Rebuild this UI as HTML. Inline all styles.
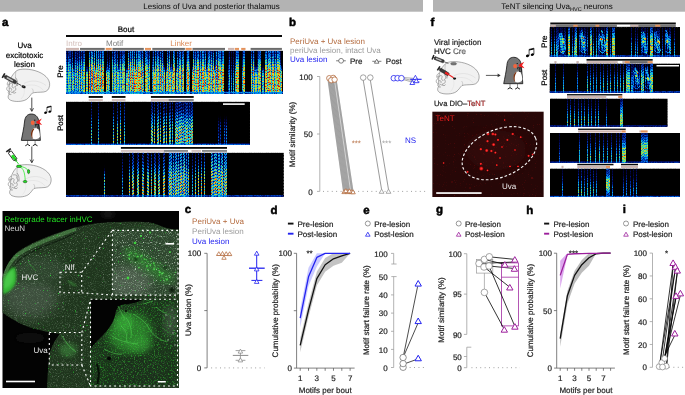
<!DOCTYPE html>
<html><head><meta charset="utf-8"><style>
html,body{margin:0;padding:0;background:#fff;}
body{width:685px;height:395px;overflow:hidden;}
svg{display:block;font-family:"Liberation Sans", sans-serif;font-size:8px;will-change:transform;text-rendering:geometricPrecision;}
</style></head><body>
<svg width="685" height="395" viewBox="0 0 685 395">
<defs><pattern id="harm" patternUnits="userSpaceOnUse" width="17" height="2.6"><g fill="#000" fill-opacity="0.6"><rect x="0" y="1.05" width="1" height="1.0"/><rect x="0" y="-1.55" width="1" height="1.0"/><rect x="1" y="0.52" width="1" height="1.0"/><rect x="1" y="-2.08" width="1" height="1.0"/><rect x="2" y="0.46" width="1" height="1.0"/><rect x="2" y="-2.14" width="1" height="1.0"/><rect x="3" y="0.65" width="1" height="1.0"/><rect x="3" y="-1.95" width="1" height="1.0"/><rect x="4" y="1.98" width="1" height="1.0"/><rect x="4" y="-0.62" width="1" height="1.0"/><rect x="5" y="0.65" width="1" height="1.0"/><rect x="5" y="-1.95" width="1" height="1.0"/><rect x="6" y="1.00" width="1" height="1.0"/><rect x="6" y="-1.60" width="1" height="1.0"/><rect x="7" y="1.78" width="1" height="1.0"/><rect x="7" y="-0.82" width="1" height="1.0"/><rect x="8" y="1.40" width="1" height="1.0"/><rect x="8" y="-1.20" width="1" height="1.0"/><rect x="9" y="2.44" width="1" height="1.0"/><rect x="9" y="-0.16" width="1" height="1.0"/><rect x="10" y="1.27" width="1" height="1.0"/><rect x="10" y="-1.33" width="1" height="1.0"/><rect x="11" y="1.10" width="1" height="1.0"/><rect x="11" y="-1.50" width="1" height="1.0"/><rect x="12" y="1.59" width="1" height="1.0"/><rect x="12" y="-1.01" width="1" height="1.0"/><rect x="13" y="0.56" width="1" height="1.0"/><rect x="13" y="-2.04" width="1" height="1.0"/><rect x="14" y="2.35" width="1" height="1.0"/><rect x="14" y="-0.25" width="1" height="1.0"/><rect x="15" y="0.97" width="1" height="1.0"/><rect x="15" y="-1.63" width="1" height="1.0"/><rect x="16" y="1.01" width="1" height="1.0"/><rect x="16" y="-1.59" width="1" height="1.0"/></g></pattern><pattern id="harm2" patternUnits="userSpaceOnUse" width="17" height="3.1"><g fill="#000" fill-opacity="0.72"><rect x="0" y="2.12" width="1" height="1.3"/><rect x="0" y="-0.98" width="1" height="1.3"/><rect x="1" y="0.47" width="1" height="1.3"/><rect x="1" y="-2.63" width="1" height="1.3"/><rect x="2" y="2.05" width="1" height="1.3"/><rect x="2" y="-1.05" width="1" height="1.3"/><rect x="3" y="2.63" width="1" height="1.3"/><rect x="3" y="-0.47" width="1" height="1.3"/><rect x="4" y="1.05" width="1" height="1.3"/><rect x="4" y="-2.05" width="1" height="1.3"/><rect x="5" y="2.94" width="1" height="1.3"/><rect x="5" y="-0.16" width="1" height="1.3"/><rect x="6" y="1.64" width="1" height="1.3"/><rect x="6" y="-1.46" width="1" height="1.3"/><rect x="7" y="2.40" width="1" height="1.3"/><rect x="7" y="-0.70" width="1" height="1.3"/><rect x="8" y="1.45" width="1" height="1.3"/><rect x="8" y="-1.65" width="1" height="1.3"/><rect x="9" y="1.25" width="1" height="1.3"/><rect x="9" y="-1.85" width="1" height="1.3"/><rect x="10" y="0.84" width="1" height="1.3"/><rect x="10" y="-2.26" width="1" height="1.3"/><rect x="11" y="0.02" width="1" height="1.3"/><rect x="11" y="-3.08" width="1" height="1.3"/><rect x="12" y="0.63" width="1" height="1.3"/><rect x="12" y="-2.47" width="1" height="1.3"/><rect x="13" y="3.07" width="1" height="1.3"/><rect x="13" y="-0.03" width="1" height="1.3"/><rect x="14" y="1.66" width="1" height="1.3"/><rect x="14" y="-1.44" width="1" height="1.3"/><rect x="15" y="1.43" width="1" height="1.3"/><rect x="15" y="-1.67" width="1" height="1.3"/><rect x="16" y="2.79" width="1" height="1.3"/><rect x="16" y="-0.31" width="1" height="1.3"/></g></pattern><linearGradient id="pf" x1="0" y1="0" x2="0" y2="1"><stop offset="0.000" stop-color="#616161"/><stop offset="0.083" stop-color="#636363"/><stop offset="0.167" stop-color="#777777"/><stop offset="0.250" stop-color="#999999"/><stop offset="0.333" stop-color="#c0c0c0"/><stop offset="0.417" stop-color="#e3e3e3"/><stop offset="0.500" stop-color="#fbfbfb"/><stop offset="0.583" stop-color="#ffffff"/><stop offset="0.667" stop-color="#ffffff"/><stop offset="0.750" stop-color="#ffffff"/><stop offset="0.833" stop-color="#ffffff"/><stop offset="0.917" stop-color="#ffffff"/><stop offset="1.000" stop-color="#e6e6e6"/></linearGradient><linearGradient id="pl" x1="0" y1="0" x2="0" y2="1"><stop offset="0.000" stop-color="#000000"/><stop offset="0.083" stop-color="#000000"/><stop offset="0.167" stop-color="#000000"/><stop offset="0.250" stop-color="#000000"/><stop offset="0.333" stop-color="#0c0c0c"/><stop offset="0.417" stop-color="#4f4f4f"/><stop offset="0.500" stop-color="#b4b4b4"/><stop offset="0.583" stop-color="#fbfbfb"/><stop offset="0.667" stop-color="#ffffff"/><stop offset="0.750" stop-color="#ffffff"/><stop offset="0.833" stop-color="#ffffff"/><stop offset="0.917" stop-color="#ffffff"/><stop offset="1.000" stop-color="#e6e6e6"/></linearGradient><linearGradient id="pb" x1="0" y1="0" x2="0" y2="1"><stop offset="0.000" stop-color="#505050"/><stop offset="0.083" stop-color="#585858"/><stop offset="0.167" stop-color="#686868"/><stop offset="0.250" stop-color="#858585"/><stop offset="0.333" stop-color="#afafaf"/><stop offset="0.417" stop-color="#dbdbdb"/><stop offset="0.500" stop-color="#f9f9f9"/><stop offset="0.583" stop-color="#fcfcfc"/><stop offset="0.667" stop-color="#e3e3e3"/><stop offset="0.750" stop-color="#b8b8b8"/><stop offset="0.833" stop-color="#8d8d8d"/><stop offset="0.917" stop-color="#6d6d6d"/><stop offset="1.000" stop-color="#5a5a5a"/></linearGradient><linearGradient id="pt" x1="0" y1="0" x2="0" y2="1"><stop offset="0.000" stop-color="#525252"/><stop offset="0.083" stop-color="#525252"/><stop offset="0.167" stop-color="#555555"/><stop offset="0.250" stop-color="#646464"/><stop offset="0.333" stop-color="#7a7a7a"/><stop offset="0.417" stop-color="#949494"/><stop offset="0.500" stop-color="#b1b1b1"/><stop offset="0.583" stop-color="#cdcdcd"/><stop offset="0.667" stop-color="#e5e5e5"/><stop offset="0.750" stop-color="#f7f7f7"/><stop offset="0.833" stop-color="#ffffff"/><stop offset="0.917" stop-color="#ffffff"/><stop offset="1.000" stop-color="#ffffff"/></linearGradient><linearGradient id="pp" x1="0" y1="0" x2="0" y2="1"><stop offset="0.000" stop-color="#4c4c4c"/><stop offset="0.083" stop-color="#4c4c4c"/><stop offset="0.167" stop-color="#515151"/><stop offset="0.250" stop-color="#626262"/><stop offset="0.333" stop-color="#7b7b7b"/><stop offset="0.417" stop-color="#999999"/><stop offset="0.500" stop-color="#b9b9b9"/><stop offset="0.583" stop-color="#d6d6d6"/><stop offset="0.667" stop-color="#eeeeee"/><stop offset="0.750" stop-color="#fcfcfc"/><stop offset="0.833" stop-color="#ffffff"/><stop offset="0.917" stop-color="#ffffff"/><stop offset="1.000" stop-color="#ebebeb"/></linearGradient><linearGradient id="pg" x1="0" y1="0" x2="0" y2="1"><stop offset="0.000" stop-color="#8c8c8c"/><stop offset="0.083" stop-color="#8c8c8c"/><stop offset="0.167" stop-color="#909090"/><stop offset="0.250" stop-color="#9e9e9e"/><stop offset="0.333" stop-color="#b3b3b3"/><stop offset="0.417" stop-color="#cacaca"/><stop offset="0.500" stop-color="#e1e1e1"/><stop offset="0.583" stop-color="#f4f4f4"/><stop offset="0.667" stop-color="#fefefe"/><stop offset="0.750" stop-color="#ffffff"/><stop offset="0.833" stop-color="#ffffff"/><stop offset="0.917" stop-color="#ffffff"/><stop offset="1.000" stop-color="#ebebeb"/></linearGradient><linearGradient id="ps" x1="0" y1="0" x2="0" y2="1"><stop offset="0.000" stop-color="#383838"/><stop offset="0.083" stop-color="#383838"/><stop offset="0.167" stop-color="#3f3f3f"/><stop offset="0.250" stop-color="#565656"/><stop offset="0.333" stop-color="#777777"/><stop offset="0.417" stop-color="#9a9a9a"/><stop offset="0.500" stop-color="#b8b8b8"/><stop offset="0.583" stop-color="#cacaca"/><stop offset="0.667" stop-color="#cccccc"/><stop offset="0.750" stop-color="#cccccc"/><stop offset="0.833" stop-color="#cccccc"/><stop offset="0.917" stop-color="#cccccc"/><stop offset="1.000" stop-color="#b8b8b8"/></linearGradient><filter id="spf1" x="0" y="0" width="1" height="1" color-interpolation-filters="sRGB"><feTurbulence type="fractalNoise" baseFrequency="0.75 0.42" numOctaves="2" seed="3" result="n"/><feColorMatrix in="n" type="matrix" values="1.0 0 0 0 0.35 1.0 0 0 0 0.35 1.0 0 0 0 0.35 0 0 0 0 1" result="m"/><feComposite in="SourceGraphic" in2="m" operator="arithmetic" k1="1.45" result="p"/><feComponentTransfer in="p"><feFuncR type="table" tableValues="0.000 0.000 0.000 0.000 0.000 0.000 0.000 0.008 0.024 0.059 0.145 0.235 0.431 0.627 0.765 0.886 0.965 0.973 0.980 0.894 0.804"/><feFuncG type="table" tableValues="0.000 0.000 0.000 0.047 0.098 0.192 0.318 0.451 0.592 0.718 0.780 0.843 0.867 0.890 0.871 0.839 0.765 0.620 0.471 0.275 0.078"/><feFuncB type="table" tableValues="0.000 0.098 0.196 0.345 0.490 0.647 0.804 0.906 0.914 0.894 0.761 0.627 0.451 0.271 0.188 0.133 0.086 0.063 0.039 0.039 0.039"/><feFuncA type="identity"/></feComponentTransfer></filter><filter id="spf2" x="0" y="0" width="1" height="1" color-interpolation-filters="sRGB"><feTurbulence type="fractalNoise" baseFrequency="0.75 0.42" numOctaves="2" seed="5" result="n"/><feColorMatrix in="n" type="matrix" values="1.0 0 0 0 0.35 1.0 0 0 0 0.35 1.0 0 0 0 0.35 0 0 0 0 1" result="m"/><feComposite in="SourceGraphic" in2="m" operator="arithmetic" k1="1.38" result="p"/><feComponentTransfer in="p"><feFuncR type="table" tableValues="0.000 0.000 0.000 0.000 0.000 0.000 0.000 0.008 0.024 0.059 0.145 0.235 0.431 0.627 0.765 0.886 0.965 0.973 0.980 0.894 0.804"/><feFuncG type="table" tableValues="0.000 0.000 0.000 0.047 0.098 0.192 0.318 0.451 0.592 0.718 0.780 0.843 0.867 0.890 0.871 0.839 0.765 0.620 0.471 0.275 0.078"/><feFuncB type="table" tableValues="0.000 0.098 0.196 0.345 0.490 0.647 0.804 0.906 0.914 0.894 0.761 0.627 0.451 0.271 0.188 0.133 0.086 0.063 0.039 0.039 0.039"/><feFuncA type="identity"/></feComponentTransfer></filter><filter id="spf3" x="0" y="0" width="1" height="1" color-interpolation-filters="sRGB"><feTurbulence type="fractalNoise" baseFrequency="0.75 0.42" numOctaves="2" seed="7" result="n"/><feColorMatrix in="n" type="matrix" values="1.0 0 0 0 0.35 1.0 0 0 0 0.35 1.0 0 0 0 0.35 0 0 0 0 1" result="m"/><feComposite in="SourceGraphic" in2="m" operator="arithmetic" k1="1.38" result="p"/><feComponentTransfer in="p"><feFuncR type="table" tableValues="0.000 0.000 0.000 0.000 0.000 0.000 0.000 0.008 0.024 0.059 0.145 0.235 0.431 0.627 0.765 0.886 0.965 0.973 0.980 0.894 0.804"/><feFuncG type="table" tableValues="0.000 0.000 0.000 0.047 0.098 0.192 0.318 0.451 0.592 0.718 0.780 0.843 0.867 0.890 0.871 0.839 0.765 0.620 0.471 0.275 0.078"/><feFuncB type="table" tableValues="0.000 0.098 0.196 0.345 0.490 0.647 0.804 0.906 0.914 0.894 0.761 0.627 0.451 0.271 0.188 0.133 0.086 0.063 0.039 0.039 0.039"/><feFuncA type="identity"/></feComponentTransfer></filter><filter id="spf4" x="0" y="0" width="1" height="1" color-interpolation-filters="sRGB"><feTurbulence type="fractalNoise" baseFrequency="0.75 0.42" numOctaves="2" seed="11" result="n"/><feColorMatrix in="n" type="matrix" values="1.0 0 0 0 0.35 1.0 0 0 0 0.35 1.0 0 0 0 0.35 0 0 0 0 1" result="m"/><feComposite in="SourceGraphic" in2="m" operator="arithmetic" k1="1.42" result="p"/><feComponentTransfer in="p"><feFuncR type="table" tableValues="0.000 0.000 0.000 0.000 0.000 0.000 0.000 0.008 0.024 0.059 0.145 0.235 0.431 0.627 0.765 0.886 0.965 0.973 0.980 0.894 0.804"/><feFuncG type="table" tableValues="0.000 0.000 0.000 0.047 0.098 0.192 0.318 0.451 0.592 0.718 0.780 0.843 0.867 0.890 0.871 0.839 0.765 0.620 0.471 0.275 0.078"/><feFuncB type="table" tableValues="0.000 0.098 0.196 0.345 0.490 0.647 0.804 0.906 0.914 0.894 0.761 0.627 0.451 0.271 0.188 0.133 0.086 0.063 0.039 0.039 0.039"/><feFuncA type="identity"/></feComponentTransfer></filter><filter id="spf5" x="0" y="0" width="1" height="1" color-interpolation-filters="sRGB"><feTurbulence type="fractalNoise" baseFrequency="0.75 0.42" numOctaves="2" seed="13" result="n"/><feColorMatrix in="n" type="matrix" values="1.0 0 0 0 0.35 1.0 0 0 0 0.35 1.0 0 0 0 0.35 0 0 0 0 1" result="m"/><feComposite in="SourceGraphic" in2="m" operator="arithmetic" k1="1.25" result="p"/><feComponentTransfer in="p"><feFuncR type="table" tableValues="0.000 0.000 0.000 0.000 0.000 0.000 0.000 0.008 0.024 0.059 0.145 0.235 0.431 0.627 0.765 0.886 0.965 0.973 0.980 0.894 0.804"/><feFuncG type="table" tableValues="0.000 0.000 0.000 0.047 0.098 0.192 0.318 0.451 0.592 0.718 0.780 0.843 0.867 0.890 0.871 0.839 0.765 0.620 0.471 0.275 0.078"/><feFuncB type="table" tableValues="0.000 0.098 0.196 0.345 0.490 0.647 0.804 0.906 0.914 0.894 0.761 0.627 0.451 0.271 0.188 0.133 0.086 0.063 0.039 0.039 0.039"/><feFuncA type="identity"/></feComponentTransfer></filter><filter id="spf6" x="0" y="0" width="1" height="1" color-interpolation-filters="sRGB"><feTurbulence type="fractalNoise" baseFrequency="0.75 0.42" numOctaves="2" seed="17" result="n"/><feColorMatrix in="n" type="matrix" values="1.0 0 0 0 0.35 1.0 0 0 0 0.35 1.0 0 0 0 0.35 0 0 0 0 1" result="m"/><feComposite in="SourceGraphic" in2="m" operator="arithmetic" k1="1.25" result="p"/><feComponentTransfer in="p"><feFuncR type="table" tableValues="0.000 0.000 0.000 0.000 0.000 0.000 0.000 0.008 0.024 0.059 0.145 0.235 0.431 0.627 0.765 0.886 0.965 0.973 0.980 0.894 0.804"/><feFuncG type="table" tableValues="0.000 0.000 0.000 0.047 0.098 0.192 0.318 0.451 0.592 0.718 0.780 0.843 0.867 0.890 0.871 0.839 0.765 0.620 0.471 0.275 0.078"/><feFuncB type="table" tableValues="0.000 0.098 0.196 0.345 0.490 0.647 0.804 0.906 0.914 0.894 0.761 0.627 0.451 0.271 0.188 0.133 0.086 0.063 0.039 0.039 0.039"/><feFuncA type="identity"/></feComponentTransfer></filter><filter id="spf7" x="0" y="0" width="1" height="1" color-interpolation-filters="sRGB"><feTurbulence type="fractalNoise" baseFrequency="0.75 0.42" numOctaves="2" seed="19" result="n"/><feColorMatrix in="n" type="matrix" values="1.0 0 0 0 0.35 1.0 0 0 0 0.35 1.0 0 0 0 0.35 0 0 0 0 1" result="m"/><feComposite in="SourceGraphic" in2="m" operator="arithmetic" k1="1.25" result="p"/><feComponentTransfer in="p"><feFuncR type="table" tableValues="0.000 0.000 0.000 0.000 0.000 0.000 0.000 0.008 0.024 0.059 0.145 0.235 0.431 0.627 0.765 0.886 0.965 0.973 0.980 0.894 0.804"/><feFuncG type="table" tableValues="0.000 0.000 0.000 0.047 0.098 0.192 0.318 0.451 0.592 0.718 0.780 0.843 0.867 0.890 0.871 0.839 0.765 0.620 0.471 0.275 0.078"/><feFuncB type="table" tableValues="0.000 0.098 0.196 0.345 0.490 0.647 0.804 0.906 0.914 0.894 0.761 0.627 0.451 0.271 0.188 0.133 0.086 0.063 0.039 0.039 0.039"/><feFuncA type="identity"/></feComponentTransfer></filter><filter id="spf8" x="0" y="0" width="1" height="1" color-interpolation-filters="sRGB"><feTurbulence type="fractalNoise" baseFrequency="0.75 0.42" numOctaves="2" seed="23" result="n"/><feColorMatrix in="n" type="matrix" values="1.0 0 0 0 0.35 1.0 0 0 0 0.35 1.0 0 0 0 0.35 0 0 0 0 1" result="m"/><feComposite in="SourceGraphic" in2="m" operator="arithmetic" k1="1.25" result="p"/><feComponentTransfer in="p"><feFuncR type="table" tableValues="0.000 0.000 0.000 0.000 0.000 0.000 0.000 0.008 0.024 0.059 0.145 0.235 0.431 0.627 0.765 0.886 0.965 0.973 0.980 0.894 0.804"/><feFuncG type="table" tableValues="0.000 0.000 0.000 0.047 0.098 0.192 0.318 0.451 0.592 0.718 0.780 0.843 0.867 0.890 0.871 0.839 0.765 0.620 0.471 0.275 0.078"/><feFuncB type="table" tableValues="0.000 0.098 0.196 0.345 0.490 0.647 0.804 0.906 0.914 0.894 0.761 0.627 0.451 0.271 0.188 0.133 0.086 0.063 0.039 0.039 0.039"/><feFuncA type="identity"/></feComponentTransfer></filter><clipPath id="mclip"><rect x="2.3" y="211" width="176.7" height="177"/></clipPath><clipPath id="tclip"><path d="M2.3,278 C5,268 10,258 18,251.5 C28,244.5 42,238.5 56,233.5 C66,230 74,227.5 86,225 C98,222.8 115,221.6 140,221.8 C150,222 156,223.5 162,226.5 C168,229 174,229.5 179,229.5 L179,388 L47,388 C47.5,375 48.5,362 50,352 C52,345 56,339 59.5,334 C52,333 42,331 30,327.5 C20,324 10,318 2.3,312.5 Z"/></clipPath><filter id="wspk" x="0" y="0" width="1" height="1" color-interpolation-filters="sRGB"><feTurbulence type="fractalNoise" baseFrequency="0.85" numOctaves="1" seed="8"/><feColorMatrix type="matrix" values="0 0 0 0 0.85 0 0 0 0 0.9 0 0 0 0 0.85 7 0 0 0 -4.45"/></filter><filter id="gspk" x="0" y="0" width="1" height="1" color-interpolation-filters="sRGB"><feTurbulence type="fractalNoise" baseFrequency="0.6" numOctaves="1" seed="21"/><feColorMatrix type="matrix" values="0 0 0 0 0.15 0 0 0 0 0.95 0 0 0 0 0.2 0 10 0 0 -7.1"/></filter><filter id="grain" x="0" y="0" width="1" height="1" color-interpolation-filters="sRGB"><feTurbulence type="fractalNoise" baseFrequency="1.1" numOctaves="1" seed="5"/><feColorMatrix type="matrix" values="0 0 0 0 0.62 0 0 0 0 0.8 0 0 0 0 0.62 4 0 0 0 -2.0"/></filter><filter id="blur1"><feGaussianBlur stdDeviation="1.2"/></filter><filter id="blur2"><feGaussianBlur stdDeviation="2.5"/></filter><filter id="blur4"><feGaussianBlur stdDeviation="4"/></filter><filter id="blur6" x="-50%" y="-50%" width="200%" height="200%"><feGaussianBlur stdDeviation="6"/></filter><clipPath id="i1clip"><rect x="112.4" y="230.4" width="65.6" height="64.7"/></clipPath><clipPath id="i2clip"><rect x="90.5" y="299.3" width="87" height="86.7"/></clipPath><filter id="gspk2" x="0" y="0" width="1" height="1" color-interpolation-filters="sRGB"><feTurbulence type="fractalNoise" baseFrequency="0.7" numOctaves="2" seed="12"/><feColorMatrix type="matrix" values="0 0 0 0 0.2 0 0 0 0 0.85 0 0 0 0 0.2 0 6 0 0 -3.3"/></filter><filter id="rgrain" x="0" y="0" width="1" height="1" color-interpolation-filters="sRGB"><feTurbulence type="fractalNoise" baseFrequency="0.9" numOctaves="1" seed="31"/><feColorMatrix type="matrix" values="0 0 0 0 0.9 0 0 0 0 0.1 0 0 0 0 0.1 6 0 0 0 -3.9"/></filter><clipPath id="tclip2"><rect x="432.2" y="111.4" width="111.6" height="85.6"/></clipPath><radialGradient id="rdot"><stop offset="0" stop-color="#ff4040"/><stop offset="0.45" stop-color="#e01818"/><stop offset="1" stop-color="#600" stop-opacity="0"/></radialGradient></defs>
<rect x="0.00" y="0.00" width="423.00" height="11.70" fill="#b3b3b3"/>
<rect x="433.00" y="0.00" width="252.00" height="11.70" fill="#b3b3b3"/>
<text x="211.5" y="9.3" fill="#0a0a0a" text-anchor="middle">Lesions of Uva and posterior thalamus</text>
<text x="557" y="9.3" fill="#0a0a0a" text-anchor="middle">TeNT silencing Uva<tspan font-size="5.5" dy="1.8">HVC</tspan><tspan dy="-1.8"> neurons</tspan></text>
<text x="2" y="25.8" font-size="11.5" font-weight="bold" stroke="#000" stroke-width="0.5">a</text>
<text x="289" y="25.5" font-size="11.5" font-weight="bold" stroke="#000" stroke-width="0.5">b</text>
<text x="184.8" y="213.3" font-size="11.5" font-weight="bold" stroke="#000" stroke-width="0.5">c</text>
<text x="270.5" y="213.8" font-size="11.5" font-weight="bold" stroke="#000" stroke-width="0.5">d</text>
<text x="363.3" y="213.8" font-size="11.5" font-weight="bold" stroke="#000" stroke-width="0.5">e</text>
<text x="430.4" y="25.8" font-size="11.5" font-weight="bold" stroke="#000" stroke-width="0.5">f</text>
<text x="436" y="213.3" font-size="11.5" font-weight="bold" stroke="#000" stroke-width="0.5">g</text>
<text x="526.2" y="213.8" font-size="11.5" font-weight="bold" stroke="#000" stroke-width="0.5">h</text>
<text x="622.8" y="213.3" font-size="11.5" font-weight="bold" stroke="#000" stroke-width="0.5">i</text>
<rect x="66.00" y="35.00" width="216.00" height="2.00" fill="#0a0a0a"/>
<text x="126" y="32.3" text-anchor="middle" stroke="#000" stroke-width="0.2">Bout</text>
<text x="66" y="46" fill="#d2bdb9">Intro</text>
<text x="106" y="46" fill="#808080">Motif</text>
<text x="170.2" y="46" fill="#dc8a58">Linker</text>
<rect x="66.00" y="47.90" width="13.00" height="2.00" fill="#cbb3ae"/>
<rect x="80.00" y="47.90" width="24.70" height="2.00" fill="#6b6b6b"/>
<rect x="105.70" y="47.90" width="6.00" height="2.00" fill="#e3915a"/>
<rect x="112.50" y="47.90" width="31.30" height="2.00" fill="#6b6b6b"/>
<rect x="145.00" y="47.90" width="6.00" height="2.00" fill="#e3915a"/>
<rect x="152.30" y="47.90" width="32.60" height="2.00" fill="#6b6b6b"/>
<rect x="185.50" y="47.90" width="6.20" height="2.00" fill="#e3915a"/>
<rect x="192.50" y="47.90" width="32.50" height="2.00" fill="#6b6b6b"/>
<rect x="228.00" y="47.90" width="6.20" height="2.00" fill="#cbb3ae"/>
<rect x="234.80" y="47.90" width="4.20" height="2.00" fill="#e3915a"/>
<rect x="241.20" y="47.90" width="4.30" height="2.00" fill="#e3915a"/>
<rect x="250.60" y="47.90" width="31.30" height="2.00" fill="#6b6b6b"/>
<g filter="url(#spf1)">
<rect x="66.00" y="50.90" width="217.00" height="42.70" fill="#000"/>
<rect x="66" y="50.9" width="1" height="42.7" fill="url(#pf)" fill-opacity="0.53"/>
<rect x="67" y="50.9" width="1" height="42.7" fill="url(#ps)" fill-opacity="0.40"/>
<rect x="68" y="50.9" width="1" height="42.7" fill="url(#pf)" fill-opacity="0.60"/>
<rect x="69" y="50.9" width="1" height="42.7" fill="url(#pf)" fill-opacity="0.53"/>
<rect x="70" y="50.9" width="1" height="42.7" fill="url(#pf)" fill-opacity="0.56"/>
<rect x="71" y="50.9" width="1" height="42.7" fill="url(#ps)" fill-opacity="0.35"/>
<rect x="72" y="50.9" width="1" height="42.7" fill="url(#pf)" fill-opacity="0.57"/>
<rect x="73" y="50.9" width="1" height="42.7" fill="url(#pl)" fill-opacity="0.55"/>
<rect x="74" y="50.9" width="1" height="42.7" fill="url(#ps)" fill-opacity="0.39"/>
<rect x="75" y="50.9" width="1" height="42.7" fill="url(#pf)" fill-opacity="0.56"/>
<rect x="76" y="50.9" width="1" height="42.7" fill="url(#ps)" fill-opacity="0.48"/>
<rect x="77" y="50.9" width="1" height="42.7" fill="url(#pf)" fill-opacity="0.56"/>
<rect x="78" y="50.9" width="1" height="42.7" fill="url(#ps)" fill-opacity="0.38"/>
<rect x="79" y="50.9" width="1" height="42.7" fill="url(#pf)" fill-opacity="0.63"/>
<rect x="80" y="50.9" width="1" height="42.7" fill="url(#ps)" fill-opacity="0.41"/>
<rect x="81" y="50.9" width="1" height="42.7" fill="url(#pf)" fill-opacity="0.65"/>
<rect x="82" y="50.9" width="1" height="42.7" fill="url(#ps)" fill-opacity="0.51"/>
<rect x="83" y="50.9" width="1" height="42.7" fill="url(#pf)" fill-opacity="0.59"/>
<rect x="84" y="50.9" width="1" height="42.7" fill="url(#pf)" fill-opacity="0.70"/>
<rect x="85" y="50.9" width="1" height="42.7" fill="url(#pl)" fill-opacity="0.10"/>
<rect x="86" y="50.9" width="1" height="42.7" fill="url(#pl)" fill-opacity="0.61"/>
<rect x="87" y="50.9" width="1" height="42.7" fill="url(#pl)" fill-opacity="0.68"/>
<rect x="88" y="50.9" width="1" height="42.7" fill="url(#pl)" fill-opacity="0.11"/>
<rect x="89" y="50.9" width="1" height="42.7" fill="url(#pf)" fill-opacity="0.91"/>
<rect x="90" y="50.9" width="1" height="42.7" fill="url(#ps)" fill-opacity="0.48"/>
<rect x="91" y="50.9" width="1" height="42.7" fill="url(#pf)" fill-opacity="0.93"/>
<rect x="92" y="50.9" width="1" height="42.7" fill="url(#pf)" fill-opacity="0.87"/>
<rect x="93" y="50.9" width="1" height="42.7" fill="url(#ps)" fill-opacity="0.60"/>
<rect x="94" y="50.9" width="1" height="42.7" fill="url(#pf)" fill-opacity="0.85"/>
<rect x="95" y="50.9" width="1" height="42.7" fill="url(#pl)" fill-opacity="0.77"/>
<rect x="96" y="50.9" width="1" height="42.7" fill="url(#pf)" fill-opacity="0.93"/>
<rect x="97" y="50.9" width="1" height="42.7" fill="url(#ps)" fill-opacity="0.64"/>
<rect x="98" y="50.9" width="1" height="42.7" fill="url(#pf)" fill-opacity="0.89"/>
<rect x="99" y="50.9" width="1" height="42.7" fill="url(#ps)" fill-opacity="0.69"/>
<rect x="100" y="50.9" width="1" height="42.7" fill="url(#pf)" fill-opacity="0.90"/>
<rect x="101" y="50.9" width="1" height="42.7" fill="url(#ps)" fill-opacity="0.58"/>
<rect x="102" y="50.9" width="1" height="42.7" fill="url(#pf)" fill-opacity="0.85"/>
<rect x="103" y="50.9" width="1" height="42.7" fill="url(#pf)" fill-opacity="0.78"/>
<rect x="106" y="50.9" width="1" height="42.7" fill="url(#pl)" fill-opacity="0.78"/>
<rect x="107" y="50.9" width="1" height="42.7" fill="url(#ps)" fill-opacity="0.60"/>
<rect x="108" y="50.9" width="1" height="42.7" fill="url(#pl)" fill-opacity="0.80"/>
<rect x="109" y="50.9" width="1" height="42.7" fill="url(#ps)" fill-opacity="0.58"/>
<rect x="112" y="50.9" width="1" height="42.7" fill="url(#pf)" fill-opacity="0.67"/>
<rect x="113" y="50.9" width="1" height="42.7" fill="url(#ps)" fill-opacity="0.43"/>
<rect x="114" y="50.9" width="1" height="42.7" fill="url(#pf)" fill-opacity="0.64"/>
<rect x="115" y="50.9" width="1" height="42.7" fill="url(#pf)" fill-opacity="0.59"/>
<rect x="116" y="50.9" width="1" height="42.7" fill="url(#ps)" fill-opacity="0.44"/>
<rect x="117" y="50.9" width="1" height="42.7" fill="url(#pf)" fill-opacity="0.61"/>
<rect x="118" y="50.9" width="1" height="42.7" fill="url(#pl)" fill-opacity="0.65"/>
<rect x="119" y="50.9" width="1" height="42.7" fill="url(#ps)" fill-opacity="0.48"/>
<rect x="120" y="50.9" width="1" height="42.7" fill="url(#pf)" fill-opacity="0.61"/>
<rect x="121" y="50.9" width="1" height="42.7" fill="url(#ps)" fill-opacity="0.47"/>
<rect x="122" y="50.9" width="1" height="42.7" fill="url(#pf)" fill-opacity="0.66"/>
<rect x="123" y="50.9" width="1" height="42.7" fill="url(#pf)" fill-opacity="0.69"/>
<rect x="124" y="50.9" width="1" height="42.7" fill="url(#pf)" fill-opacity="0.61"/>
<rect x="125" y="50.9" width="1" height="42.7" fill="url(#pl)" fill-opacity="0.16"/>
<rect x="126" y="50.9" width="1" height="42.7" fill="url(#pl)" fill-opacity="0.57"/>
<rect x="127" y="50.9" width="1" height="42.7" fill="url(#pl)" fill-opacity="0.56"/>
<rect x="128" y="50.9" width="1" height="42.7" fill="url(#pf)" fill-opacity="0.82"/>
<rect x="129" y="50.9" width="1" height="42.7" fill="url(#ps)" fill-opacity="0.52"/>
<rect x="130" y="50.9" width="1" height="42.7" fill="url(#pf)" fill-opacity="0.90"/>
<rect x="131" y="50.9" width="1" height="42.7" fill="url(#ps)" fill-opacity="0.65"/>
<rect x="132" y="50.9" width="1" height="42.7" fill="url(#pf)" fill-opacity="0.89"/>
<rect x="133" y="50.9" width="1" height="42.7" fill="url(#ps)" fill-opacity="0.56"/>
<rect x="134" y="50.9" width="1" height="42.7" fill="url(#pf)" fill-opacity="0.85"/>
<rect x="135" y="50.9" width="1" height="42.7" fill="url(#pl)" fill-opacity="0.84"/>
<rect x="136" y="50.9" width="1" height="42.7" fill="url(#pf)" fill-opacity="0.90"/>
<rect x="137" y="50.9" width="1" height="42.7" fill="url(#ps)" fill-opacity="0.71"/>
<rect x="138" y="50.9" width="1" height="42.7" fill="url(#pf)" fill-opacity="0.88"/>
<rect x="139" y="50.9" width="1" height="42.7" fill="url(#pf)" fill-opacity="0.80"/>
<rect x="140" y="50.9" width="1" height="42.7" fill="url(#pf)" fill-opacity="0.84"/>
<rect x="141" y="50.9" width="1" height="42.7" fill="url(#ps)" fill-opacity="0.61"/>
<rect x="142" y="50.9" width="1" height="42.7" fill="url(#pf)" fill-opacity="0.83"/>
<rect x="143" y="50.9" width="1" height="42.7" fill="url(#ps)" fill-opacity="0.57"/>
<rect x="145" y="50.9" width="1" height="42.7" fill="url(#pf)" fill-opacity="0.75"/>
<rect x="146" y="50.9" width="1" height="42.7" fill="url(#pf)" fill-opacity="0.75"/>
<rect x="147" y="50.9" width="1" height="42.7" fill="url(#pf)" fill-opacity="0.64"/>
<rect x="148" y="50.9" width="1" height="42.7" fill="url(#ps)" fill-opacity="0.50"/>
<rect x="149" y="50.9" width="1" height="42.7" fill="url(#pf)" fill-opacity="0.70"/>
<rect x="152" y="50.9" width="1" height="42.7" fill="url(#ps)" fill-opacity="0.50"/>
<rect x="153" y="50.9" width="1" height="42.7" fill="url(#pf)" fill-opacity="0.72"/>
<rect x="154" y="50.9" width="1" height="42.7" fill="url(#pl)" fill-opacity="0.80"/>
<rect x="155" y="50.9" width="1" height="42.7" fill="url(#pf)" fill-opacity="0.78"/>
<rect x="156" y="50.9" width="1" height="42.7" fill="url(#ps)" fill-opacity="0.55"/>
<rect x="157" y="50.9" width="1" height="42.7" fill="url(#pf)" fill-opacity="0.73"/>
<rect x="158" y="50.9" width="1" height="42.7" fill="url(#pf)" fill-opacity="0.72"/>
<rect x="159" y="50.9" width="1" height="42.7" fill="url(#ps)" fill-opacity="0.50"/>
<rect x="160" y="50.9" width="1" height="42.7" fill="url(#pf)" fill-opacity="0.80"/>
<rect x="161" y="50.9" width="1" height="42.7" fill="url(#ps)" fill-opacity="0.55"/>
<rect x="162" y="50.9" width="1" height="42.7" fill="url(#pf)" fill-opacity="0.78"/>
<rect x="163" y="50.9" width="1" height="42.7" fill="url(#ps)" fill-opacity="0.53"/>
<rect x="164" y="50.9" width="1" height="42.7" fill="url(#pl)" fill-opacity="0.77"/>
<rect x="165" y="50.9" width="1" height="42.7" fill="url(#pl)" fill-opacity="0.15"/>
<rect x="166" y="50.9" width="1" height="42.7" fill="url(#pl)" fill-opacity="0.64"/>
<rect x="167" y="50.9" width="1" height="42.7" fill="url(#pf)" fill-opacity="0.76"/>
<rect x="168" y="50.9" width="1" height="42.7" fill="url(#ps)" fill-opacity="0.54"/>
<rect x="169" y="50.9" width="1" height="42.7" fill="url(#pf)" fill-opacity="0.83"/>
<rect x="170" y="50.9" width="1" height="42.7" fill="url(#pl)" fill-opacity="0.77"/>
<rect x="171" y="50.9" width="1" height="42.7" fill="url(#ps)" fill-opacity="0.51"/>
<rect x="172" y="50.9" width="1" height="42.7" fill="url(#pl)" fill-opacity="0.70"/>
<rect x="173" y="50.9" width="1" height="42.7" fill="url(#pf)" fill-opacity="0.86"/>
<rect x="174" y="50.9" width="1" height="42.7" fill="url(#pf)" fill-opacity="0.73"/>
<rect x="175" y="50.9" width="1" height="42.7" fill="url(#pl)" fill-opacity="0.12"/>
<rect x="176" y="50.9" width="1" height="42.7" fill="url(#pl)" fill-opacity="0.60"/>
<rect x="177" y="50.9" width="1" height="42.7" fill="url(#pf)" fill-opacity="0.68"/>
<rect x="178" y="50.9" width="1" height="42.7" fill="url(#ps)" fill-opacity="0.46"/>
<rect x="179" y="50.9" width="1" height="42.7" fill="url(#pf)" fill-opacity="0.68"/>
<rect x="180" y="50.9" width="1" height="42.7" fill="url(#pf)" fill-opacity="0.76"/>
<rect x="181" y="50.9" width="1" height="42.7" fill="url(#ps)" fill-opacity="0.46"/>
<rect x="182" y="50.9" width="1" height="42.7" fill="url(#pf)" fill-opacity="0.73"/>
<rect x="183" y="50.9" width="1" height="42.7" fill="url(#pf)" fill-opacity="0.73"/>
<rect x="186" y="50.9" width="1" height="42.7" fill="url(#ps)" fill-opacity="0.55"/>
<rect x="187" y="50.9" width="1" height="42.7" fill="url(#pf)" fill-opacity="0.84"/>
<rect x="188" y="50.9" width="1" height="42.7" fill="url(#pf)" fill-opacity="0.83"/>
<rect x="189" y="50.9" width="1" height="42.7" fill="url(#ps)" fill-opacity="0.58"/>
<rect x="192" y="50.9" width="1" height="42.7" fill="url(#pl)" fill-opacity="0.72"/>
<rect x="193" y="50.9" width="1" height="42.7" fill="url(#pf)" fill-opacity="0.86"/>
<rect x="194" y="50.9" width="1" height="42.7" fill="url(#ps)" fill-opacity="0.61"/>
<rect x="195" y="50.9" width="1" height="42.7" fill="url(#pf)" fill-opacity="0.77"/>
<rect x="196" y="50.9" width="1" height="42.7" fill="url(#ps)" fill-opacity="0.58"/>
<rect x="197" y="50.9" width="1" height="42.7" fill="url(#pf)" fill-opacity="0.85"/>
<rect x="198" y="50.9" width="1" height="42.7" fill="url(#pf)" fill-opacity="0.88"/>
<rect x="199" y="50.9" width="1" height="42.7" fill="url(#ps)" fill-opacity="0.47"/>
<rect x="200" y="50.9" width="1" height="42.7" fill="url(#pf)" fill-opacity="0.77"/>
<rect x="201" y="50.9" width="1" height="42.7" fill="url(#ps)" fill-opacity="0.50"/>
<rect x="202" y="50.9" width="1" height="42.7" fill="url(#pf)" fill-opacity="0.84"/>
<rect x="203" y="50.9" width="1" height="42.7" fill="url(#pf)" fill-opacity="0.87"/>
<rect x="204" y="50.9" width="1" height="42.7" fill="url(#ps)" fill-opacity="0.62"/>
<rect x="205" y="50.9" width="1" height="42.7" fill="url(#pf)" fill-opacity="0.86"/>
<rect x="206" y="50.9" width="1" height="42.7" fill="url(#pl)" fill-opacity="0.59"/>
<rect x="207" y="50.9" width="1" height="42.7" fill="url(#ps)" fill-opacity="0.57"/>
<rect x="208" y="50.9" width="1" height="42.7" fill="url(#pf)" fill-opacity="0.78"/>
<rect x="209" y="50.9" width="1" height="42.7" fill="url(#pf)" fill-opacity="0.78"/>
<rect x="210" y="50.9" width="1" height="42.7" fill="url(#ps)" fill-opacity="0.66"/>
<rect x="211" y="50.9" width="1" height="42.7" fill="url(#pf)" fill-opacity="0.79"/>
<rect x="212" y="50.9" width="1" height="42.7" fill="url(#ps)" fill-opacity="0.53"/>
<rect x="213" y="50.9" width="1" height="42.7" fill="url(#pf)" fill-opacity="0.80"/>
<rect x="214" y="50.9" width="1" height="42.7" fill="url(#pl)" fill-opacity="0.81"/>
<rect x="215" y="50.9" width="1" height="42.7" fill="url(#ps)" fill-opacity="0.55"/>
<rect x="216" y="50.9" width="1" height="42.7" fill="url(#pf)" fill-opacity="0.89"/>
<rect x="217" y="50.9" width="1" height="42.7" fill="url(#ps)" fill-opacity="0.54"/>
<rect x="218" y="50.9" width="1" height="42.7" fill="url(#pf)" fill-opacity="0.88"/>
<rect x="219" y="50.9" width="1" height="42.7" fill="url(#pf)" fill-opacity="0.75"/>
<rect x="220" y="50.9" width="1" height="42.7" fill="url(#pf)" fill-opacity="0.80"/>
<rect x="221" y="50.9" width="1" height="42.7" fill="url(#ps)" fill-opacity="0.63"/>
<rect x="222" y="50.9" width="1" height="42.7" fill="url(#pf)" fill-opacity="0.78"/>
<rect x="223" y="50.9" width="1" height="42.7" fill="url(#pf)" fill-opacity="0.89"/>
<rect x="228" y="50.9" width="1" height="42.7" fill="url(#ps)" fill-opacity="0.32"/>
<rect x="229" y="50.9" width="1" height="42.7" fill="url(#pf)" fill-opacity="0.47"/>
<rect x="231" y="50.9" width="1" height="42.7" fill="url(#pt)" fill-opacity="0.38"/>
<rect x="233" y="50.9" width="1" height="42.7" fill="url(#pt)" fill-opacity="0.42"/>
<rect x="235" y="50.9" width="1" height="42.7" fill="url(#ps)" fill-opacity="0.62"/>
<rect x="236" y="50.9" width="1" height="42.7" fill="url(#pf)" fill-opacity="0.84"/>
<rect x="237" y="50.9" width="1" height="42.7" fill="url(#pf)" fill-opacity="0.75"/>
<rect x="238" y="50.9" width="1" height="42.7" fill="url(#pf)" fill-opacity="0.79"/>
<rect x="242" y="50.9" width="1" height="42.7" fill="url(#ps)" fill-opacity="0.51"/>
<rect x="243" y="50.9" width="1" height="42.7" fill="url(#pf)" fill-opacity="0.78"/>
<rect x="244" y="50.9" width="1" height="42.7" fill="url(#pf)" fill-opacity="0.75"/>
<rect x="251" y="50.9" width="1" height="42.7" fill="url(#pf)" fill-opacity="0.69"/>
<rect x="252" y="50.9" width="1" height="42.7" fill="url(#ps)" fill-opacity="0.42"/>
<rect x="253" y="50.9" width="1" height="42.7" fill="url(#pf)" fill-opacity="0.75"/>
<rect x="254" y="50.9" width="1" height="42.7" fill="url(#ps)" fill-opacity="0.49"/>
<rect x="255" y="50.9" width="1" height="42.7" fill="url(#pl)" fill-opacity="0.72"/>
<rect x="256" y="50.9" width="1" height="42.7" fill="url(#pl)" fill-opacity="0.64"/>
<rect x="257" y="50.9" width="1" height="42.7" fill="url(#ps)" fill-opacity="0.49"/>
<rect x="258" y="50.9" width="1" height="42.7" fill="url(#pf)" fill-opacity="0.70"/>
<rect x="259" y="50.9" width="1" height="42.7" fill="url(#pf)" fill-opacity="0.75"/>
<rect x="260" y="50.9" width="1" height="42.7" fill="url(#pf)" fill-opacity="0.72"/>
<rect x="261" y="50.9" width="1" height="42.7" fill="url(#pl)" fill-opacity="0.12"/>
<rect x="262" y="50.9" width="1" height="42.7" fill="url(#pl)" fill-opacity="0.56"/>
<rect x="263" y="50.9" width="1" height="42.7" fill="url(#pl)" fill-opacity="0.54"/>
<rect x="264" y="50.9" width="1" height="42.7" fill="url(#pl)" fill-opacity="0.12"/>
<rect x="265" y="50.9" width="1" height="42.7" fill="url(#pf)" fill-opacity="0.84"/>
<rect x="266" y="50.9" width="1" height="42.7" fill="url(#pf)" fill-opacity="0.85"/>
<rect x="267" y="50.9" width="1" height="42.7" fill="url(#ps)" fill-opacity="0.63"/>
<rect x="268" y="50.9" width="1" height="42.7" fill="url(#pf)" fill-opacity="0.86"/>
<rect x="269" y="50.9" width="1" height="42.7" fill="url(#pf)" fill-opacity="0.82"/>
<rect x="270" y="50.9" width="1" height="42.7" fill="url(#pf)" fill-opacity="0.81"/>
<rect x="271" y="50.9" width="1" height="42.7" fill="url(#ps)" fill-opacity="0.58"/>
<rect x="272" y="50.9" width="1" height="42.7" fill="url(#pf)" fill-opacity="0.83"/>
<rect x="273" y="50.9" width="1" height="42.7" fill="url(#pf)" fill-opacity="0.88"/>
<rect x="274" y="50.9" width="1" height="42.7" fill="url(#ps)" fill-opacity="0.53"/>
<rect x="275" y="50.9" width="1" height="42.7" fill="url(#pf)" fill-opacity="0.75"/>
<rect x="276" y="50.9" width="1" height="42.7" fill="url(#ps)" fill-opacity="0.69"/>
<rect x="277" y="50.9" width="1" height="42.7" fill="url(#pf)" fill-opacity="0.88"/>
<rect x="278" y="50.9" width="1" height="42.7" fill="url(#pf)" fill-opacity="0.89"/>
<rect x="279" y="50.9" width="1" height="42.7" fill="url(#pf)" fill-opacity="0.86"/>
<rect x="280" y="50.9" width="1" height="42.7" fill="url(#ps)" fill-opacity="0.67"/>
<rect x="281" y="50.9" width="1" height="42.7" fill="url(#pl)" fill-opacity="0.78"/>
<rect x="66" y="50.9" width="217" height="42.7" fill="url(#harm)"/>
<rect x="66.00" y="91.60" width="217.00" height="2.00" fill="#4c4c4c"/>
</g>
<rect x="88.70" y="96.00" width="14.10" height="1.90" fill="#0a0a0a"/>
<rect x="111.80" y="96.00" width="13.70" height="1.90" fill="#0a0a0a"/>
<rect x="150.90" y="96.00" width="42.80" height="1.90" fill="#0a0a0a"/>
<rect x="88.70" y="99.20" width="14.10" height="1.60" fill="#cbb3ae"/>
<rect x="111.80" y="99.20" width="13.70" height="1.60" fill="#cbb3ae"/>
<rect x="150.90" y="99.20" width="17.70" height="1.60" fill="#cbb3ae"/>
<rect x="168.60" y="99.20" width="25.10" height="1.60" fill="#6b6b6b"/>
<g filter="url(#spf2)">
<rect x="66.00" y="101.90" width="183.70" height="43.00" fill="#000"/>
<rect x="91" y="101.9" width="1" height="43" fill="url(#pt)" fill-opacity="0.51"/>
<rect x="98" y="101.9" width="1" height="43" fill="url(#pt)" fill-opacity="0.52"/>
<rect x="113" y="101.9" width="1" height="43" fill="url(#pt)" fill-opacity="0.58"/>
<rect x="117" y="101.9" width="1" height="43" fill="url(#pt)" fill-opacity="0.59"/>
<rect x="120" y="101.9" width="1" height="43" fill="url(#pt)" fill-opacity="0.74"/>
<rect x="124" y="101.9" width="1" height="43" fill="url(#pt)" fill-opacity="0.57"/>
<rect x="151" y="101.9" width="1" height="43" fill="url(#pp)" fill-opacity="0.62"/>
<rect x="152" y="101.9" width="1" height="43" fill="url(#pp)" fill-opacity="0.66"/>
<rect x="154" y="101.9" width="1" height="43" fill="url(#pp)" fill-opacity="0.71"/>
<rect x="157" y="101.9" width="1" height="43" fill="url(#pp)" fill-opacity="0.68"/>
<rect x="158" y="101.9" width="1" height="43" fill="url(#pp)" fill-opacity="0.71"/>
<rect x="160" y="101.9" width="1" height="43" fill="url(#pp)" fill-opacity="0.62"/>
<rect x="163" y="101.9" width="1" height="43" fill="url(#pp)" fill-opacity="0.66"/>
<rect x="164" y="101.9" width="1" height="43" fill="url(#pp)" fill-opacity="0.64"/>
<rect x="166" y="101.9" width="1" height="43" fill="url(#pp)" fill-opacity="0.67"/>
<rect x="169" y="101.9" width="1" height="43" fill="url(#pp)" fill-opacity="0.67"/>
<rect x="170" y="101.9" width="1" height="43" fill="url(#pp)" fill-opacity="0.61"/>
<rect x="172" y="101.9" width="1" height="43" fill="url(#pp)" fill-opacity="0.64"/>
<rect x="175" y="101.9" width="1" height="43" fill="url(#pp)" fill-opacity="0.64"/>
<rect x="176" y="101.9" width="1" height="43" fill="url(#pp)" fill-opacity="0.71"/>
<rect x="177" y="101.9" width="1" height="43" fill="url(#pp)" fill-opacity="0.77"/>
<rect x="178" y="101.9" width="1" height="43" fill="url(#ps)" fill-opacity="0.56"/>
<rect x="179" y="101.9" width="1" height="43" fill="url(#pp)" fill-opacity="0.78"/>
<rect x="180" y="101.9" width="1" height="43" fill="url(#pp)" fill-opacity="0.69"/>
<rect x="181" y="101.9" width="1" height="43" fill="url(#pp)" fill-opacity="0.78"/>
<rect x="182" y="101.9" width="1" height="43" fill="url(#ps)" fill-opacity="0.58"/>
<rect x="183" y="101.9" width="1" height="43" fill="url(#pp)" fill-opacity="0.76"/>
<rect x="184" y="101.9" width="1" height="43" fill="url(#ps)" fill-opacity="0.53"/>
<rect x="185" y="101.9" width="1" height="43" fill="url(#pp)" fill-opacity="0.67"/>
<rect x="186" y="101.9" width="1" height="43" fill="url(#pp)" fill-opacity="0.74"/>
<rect x="187" y="101.9" width="1" height="43" fill="url(#pp)" fill-opacity="0.75"/>
<rect x="188" y="101.9" width="1" height="43" fill="url(#ps)" fill-opacity="0.49"/>
<rect x="189" y="101.9" width="1" height="43" fill="url(#pp)" fill-opacity="0.76"/>
<rect x="190" y="101.9" width="1" height="43" fill="url(#ps)" fill-opacity="0.60"/>
<rect x="191" y="101.9" width="1" height="43" fill="url(#pp)" fill-opacity="0.77"/>
<rect x="192" y="101.9" width="1" height="43" fill="url(#pp)" fill-opacity="0.74"/>
<rect x="218" y="101.9" width="1" height="43" fill="url(#pl)" fill-opacity="0.25"/>
<rect x="219" y="101.9" width="1" height="43" fill="url(#pl)" fill-opacity="0.07"/>
<rect x="220" y="101.9" width="1" height="43" fill="url(#pl)" fill-opacity="0.26"/>
<rect x="224" y="101.9" width="1" height="43" fill="url(#pl)" fill-opacity="0.29"/>
<rect x="225" y="101.9" width="1" height="43" fill="url(#pl)" fill-opacity="0.07"/>
<rect x="226" y="101.9" width="1" height="43" fill="url(#pl)" fill-opacity="0.32"/>
<rect x="66" y="101.9" width="183.7" height="43" fill="url(#harm2)"/>
<rect x="66.00" y="143.60" width="183.70" height="1.30" fill="#4c4c4c"/>
</g>
<rect x="223.00" y="103.30" width="21.70" height="1.60" fill="#fff"/>
<rect x="120.90" y="147.00" width="106.10" height="1.80" fill="#0a0a0a"/>
<rect x="120.90" y="150.20" width="43.10" height="1.50" fill="#cbb3ae"/>
<rect x="164.00" y="150.20" width="24.00" height="1.50" fill="#6b6b6b"/>
<rect x="191.50" y="150.20" width="9.50" height="1.50" fill="#cbb3ae"/>
<rect x="202.00" y="150.20" width="25.00" height="1.50" fill="#6b6b6b"/>
<g filter="url(#spf3)">
<rect x="66.00" y="152.90" width="217.50" height="43.70" fill="#000"/>
<rect x="104" y="152.9" width="1" height="43.7" fill="url(#pl)" fill-opacity="0.54"/>
<rect x="122" y="152.9" width="1" height="43.7" fill="url(#pt)" fill-opacity="0.42"/>
<rect x="129" y="152.9" width="1" height="43.7" fill="url(#pp)" fill-opacity="0.66"/>
<rect x="132" y="152.9" width="1" height="43.7" fill="url(#pp)" fill-opacity="0.74"/>
<rect x="133" y="152.9" width="1" height="43.7" fill="url(#pp)" fill-opacity="0.72"/>
<rect x="137" y="152.9" width="1" height="43.7" fill="url(#pp)" fill-opacity="0.67"/>
<rect x="138" y="152.9" width="1" height="43.7" fill="url(#pp)" fill-opacity="0.72"/>
<rect x="142" y="152.9" width="1" height="43.7" fill="url(#pp)" fill-opacity="0.70"/>
<rect x="143" y="152.9" width="1" height="43.7" fill="url(#pp)" fill-opacity="0.75"/>
<rect x="147" y="152.9" width="1" height="43.7" fill="url(#pp)" fill-opacity="0.67"/>
<rect x="148" y="152.9" width="1" height="43.7" fill="url(#pp)" fill-opacity="0.68"/>
<rect x="151" y="152.9" width="1" height="43.7" fill="url(#pp)" fill-opacity="0.74"/>
<rect x="154" y="152.9" width="1" height="43.7" fill="url(#pp)" fill-opacity="0.78"/>
<rect x="155" y="152.9" width="1" height="43.7" fill="url(#pp)" fill-opacity="0.70"/>
<rect x="158" y="152.9" width="1" height="43.7" fill="url(#pp)" fill-opacity="0.66"/>
<rect x="159" y="152.9" width="1" height="43.7" fill="url(#pp)" fill-opacity="0.70"/>
<rect x="163" y="152.9" width="1" height="43.7" fill="url(#pp)" fill-opacity="0.76"/>
<rect x="164" y="152.9" width="1" height="43.7" fill="url(#pp)" fill-opacity="0.71"/>
<rect x="168" y="152.9" width="1" height="43.7" fill="url(#ps)" fill-opacity="0.43"/>
<rect x="169" y="152.9" width="1" height="43.7" fill="url(#pg)" fill-opacity="0.68"/>
<rect x="170" y="152.9" width="1" height="43.7" fill="url(#pg)" fill-opacity="0.66"/>
<rect x="171" y="152.9" width="1" height="43.7" fill="url(#pg)" fill-opacity="0.73"/>
<rect x="172" y="152.9" width="1" height="43.7" fill="url(#ps)" fill-opacity="0.44"/>
<rect x="173" y="152.9" width="1" height="43.7" fill="url(#pg)" fill-opacity="0.70"/>
<rect x="174" y="152.9" width="1" height="43.7" fill="url(#ps)" fill-opacity="0.48"/>
<rect x="175" y="152.9" width="1" height="43.7" fill="url(#pg)" fill-opacity="0.67"/>
<rect x="176" y="152.9" width="1" height="43.7" fill="url(#pg)" fill-opacity="0.71"/>
<rect x="177" y="152.9" width="1" height="43.7" fill="url(#ps)" fill-opacity="0.59"/>
<rect x="178" y="152.9" width="1" height="43.7" fill="url(#pg)" fill-opacity="0.75"/>
<rect x="179" y="152.9" width="1" height="43.7" fill="url(#ps)" fill-opacity="0.52"/>
<rect x="180" y="152.9" width="1" height="43.7" fill="url(#pg)" fill-opacity="0.76"/>
<rect x="181" y="152.9" width="1" height="43.7" fill="url(#pg)" fill-opacity="0.74"/>
<rect x="182" y="152.9" width="1" height="43.7" fill="url(#ps)" fill-opacity="0.55"/>
<rect x="183" y="152.9" width="1" height="43.7" fill="url(#pg)" fill-opacity="0.73"/>
<rect x="184" y="152.9" width="1" height="43.7" fill="url(#pg)" fill-opacity="0.74"/>
<rect x="185" y="152.9" width="1" height="43.7" fill="url(#ps)" fill-opacity="0.51"/>
<rect x="186" y="152.9" width="1" height="43.7" fill="url(#pg)" fill-opacity="0.64"/>
<rect x="187" y="152.9" width="1" height="43.7" fill="url(#ps)" fill-opacity="0.41"/>
<rect x="188" y="152.9" width="1" height="43.7" fill="url(#pg)" fill-opacity="0.67"/>
<rect x="192" y="152.9" width="1" height="43.7" fill="url(#pt)" fill-opacity="0.49"/>
<rect x="195" y="152.9" width="1" height="43.7" fill="url(#pp)" fill-opacity="0.65"/>
<rect x="198" y="152.9" width="1" height="43.7" fill="url(#pp)" fill-opacity="0.75"/>
<rect x="201" y="152.9" width="1" height="43.7" fill="url(#pp)" fill-opacity="0.74"/>
<rect x="204" y="152.9" width="1" height="43.7" fill="url(#pp)" fill-opacity="0.80"/>
<rect x="211" y="152.9" width="1" height="43.7" fill="url(#pg)" fill-opacity="0.79"/>
<rect x="212" y="152.9" width="1" height="43.7" fill="url(#pg)" fill-opacity="0.71"/>
<rect x="213" y="152.9" width="1" height="43.7" fill="url(#ps)" fill-opacity="0.57"/>
<rect x="214" y="152.9" width="1" height="43.7" fill="url(#pg)" fill-opacity="0.71"/>
<rect x="215" y="152.9" width="1" height="43.7" fill="url(#pg)" fill-opacity="0.74"/>
<rect x="216" y="152.9" width="1" height="43.7" fill="url(#pg)" fill-opacity="0.71"/>
<rect x="217" y="152.9" width="1" height="43.7" fill="url(#ps)" fill-opacity="0.52"/>
<rect x="218" y="152.9" width="1" height="43.7" fill="url(#pg)" fill-opacity="0.75"/>
<rect x="219" y="152.9" width="1" height="43.7" fill="url(#pg)" fill-opacity="0.77"/>
<rect x="220" y="152.9" width="1" height="43.7" fill="url(#ps)" fill-opacity="0.62"/>
<rect x="221" y="152.9" width="1" height="43.7" fill="url(#pg)" fill-opacity="0.73"/>
<rect x="222" y="152.9" width="1" height="43.7" fill="url(#pg)" fill-opacity="0.77"/>
<rect x="223" y="152.9" width="1" height="43.7" fill="url(#ps)" fill-opacity="0.43"/>
<rect x="224" y="152.9" width="1" height="43.7" fill="url(#pg)" fill-opacity="0.67"/>
<rect x="225" y="152.9" width="1" height="43.7" fill="url(#pg)" fill-opacity="0.69"/>
<rect x="226" y="152.9" width="1" height="43.7" fill="url(#pg)" fill-opacity="0.68"/>
<rect x="66" y="152.9" width="217.5" height="43.7" fill="url(#harm2)"/>
<rect x="66.00" y="195.30" width="217.50" height="1.30" fill="#4c4c4c"/>
</g>
<rect x="550.30" y="22.50" width="125.50" height="1.60" fill="#0a0a0a"/>
<rect x="550.30" y="24.10" width="125.50" height="3.00" fill="#777777"/>
<rect x="550.60" y="24.80" width="5.20" height="1.90" fill="#cbb3ae"/>
<rect x="573.30" y="24.80" width="4.40" height="1.90" fill="#e3915a"/>
<rect x="595.50" y="24.80" width="3.70" height="1.90" fill="#e3915a"/>
<rect x="616.90" y="24.80" width="13.60" height="1.90" fill="#ffffff"/>
<rect x="630.80" y="24.80" width="7.60" height="1.90" fill="#cbb3ae"/>
<rect x="655.20" y="24.80" width="5.10" height="1.90" fill="#e3915a"/>
<g filter="url(#spf4)">
<rect x="549.80" y="27.40" width="130.20" height="29.20" fill="#000"/>
<rect x="551" y="27.4" width="1" height="29.2" fill="url(#pt)" fill-opacity="0.45"/>
<rect x="554" y="27.4" width="1" height="29.2" fill="url(#pt)" fill-opacity="0.47"/>
<rect x="556" y="27.4" width="1" height="29.2" fill="url(#pt)" fill-opacity="0.47"/>
<rect x="557" y="27.4" width="1" height="29.2" fill="url(#pt)" fill-opacity="0.43"/>
<rect x="558" y="27.4" width="1" height="29.2" fill="url(#pb)" fill-opacity="0.38"/>
<rect x="559" y="27.4" width="1" height="29.2" fill="url(#pb)" fill-opacity="0.08"/>
<rect x="560" y="27.4" width="1" height="29.2" fill="url(#pb)" fill-opacity="0.37"/>
<rect x="561" y="27.4" width="1" height="29.2" fill="url(#pb)" fill-opacity="0.41"/>
<rect x="562" y="27.4" width="1" height="29.2" fill="url(#pb)" fill-opacity="0.35"/>
<rect x="563" y="27.4" width="1" height="29.2" fill="url(#pb)" fill-opacity="0.09"/>
<rect x="564" y="27.4" width="1" height="29.2" fill="url(#pb)" fill-opacity="0.38"/>
<rect x="565" y="27.4" width="1" height="29.2" fill="url(#pb)" fill-opacity="0.36"/>
<rect x="568" y="27.4" width="1" height="29.2" fill="url(#pf)" fill-opacity="0.68"/>
<rect x="569" y="27.4" width="1" height="29.2" fill="url(#pf)" fill-opacity="0.74"/>
<rect x="572" y="27.4" width="1" height="29.2" fill="url(#pt)" fill-opacity="0.46"/>
<rect x="574" y="27.4" width="1" height="29.2" fill="url(#pt)" fill-opacity="0.48"/>
<rect x="575" y="27.4" width="1" height="29.2" fill="url(#pf)" fill-opacity="0.65"/>
<rect x="576" y="27.4" width="1" height="29.2" fill="url(#pf)" fill-opacity="0.66"/>
<rect x="579" y="27.4" width="1" height="29.2" fill="url(#pb)" fill-opacity="0.38"/>
<rect x="580" y="27.4" width="1" height="29.2" fill="url(#pb)" fill-opacity="0.11"/>
<rect x="581" y="27.4" width="1" height="29.2" fill="url(#pb)" fill-opacity="0.40"/>
<rect x="582" y="27.4" width="1" height="29.2" fill="url(#pb)" fill-opacity="0.36"/>
<rect x="583" y="27.4" width="1" height="29.2" fill="url(#pb)" fill-opacity="0.06"/>
<rect x="584" y="27.4" width="1" height="29.2" fill="url(#pb)" fill-opacity="0.42"/>
<rect x="585" y="27.4" width="1" height="29.2" fill="url(#pb)" fill-opacity="0.34"/>
<rect x="586" y="27.4" width="1" height="29.2" fill="url(#pb)" fill-opacity="0.11"/>
<rect x="587" y="27.4" width="1" height="29.2" fill="url(#pb)" fill-opacity="0.39"/>
<rect x="590" y="27.4" width="1" height="29.2" fill="url(#pf)" fill-opacity="0.71"/>
<rect x="591" y="27.4" width="1" height="29.2" fill="url(#pf)" fill-opacity="0.69"/>
<rect x="593" y="27.4" width="1" height="29.2" fill="url(#pt)" fill-opacity="0.45"/>
<rect x="596" y="27.4" width="1" height="29.2" fill="url(#pt)" fill-opacity="0.50"/>
<rect x="598" y="27.4" width="1" height="29.2" fill="url(#pb)" fill-opacity="0.40"/>
<rect x="599" y="27.4" width="1" height="29.2" fill="url(#pb)" fill-opacity="0.36"/>
<rect x="600" y="27.4" width="1" height="29.2" fill="url(#pb)" fill-opacity="0.05"/>
<rect x="601" y="27.4" width="1" height="29.2" fill="url(#pb)" fill-opacity="0.36"/>
<rect x="602" y="27.4" width="1" height="29.2" fill="url(#pb)" fill-opacity="0.35"/>
<rect x="603" y="27.4" width="1" height="29.2" fill="url(#pb)" fill-opacity="0.05"/>
<rect x="604" y="27.4" width="1" height="29.2" fill="url(#pb)" fill-opacity="0.41"/>
<rect x="605" y="27.4" width="1" height="29.2" fill="url(#pb)" fill-opacity="0.08"/>
<rect x="606" y="27.4" width="1" height="29.2" fill="url(#pf)" fill-opacity="0.67"/>
<rect x="607" y="27.4" width="1" height="29.2" fill="url(#pf)" fill-opacity="0.78"/>
<rect x="610" y="27.4" width="1" height="29.2" fill="url(#pt)" fill-opacity="0.34"/>
<rect x="612" y="27.4" width="1" height="29.2" fill="url(#pf)" fill-opacity="0.69"/>
<rect x="613" y="27.4" width="1" height="29.2" fill="url(#pf)" fill-opacity="0.75"/>
<rect x="614" y="27.4" width="1" height="29.2" fill="url(#pf)" fill-opacity="0.70"/>
<rect x="631" y="27.4" width="1" height="29.2" fill="url(#pt)" fill-opacity="0.43"/>
<rect x="635" y="27.4" width="1" height="29.2" fill="url(#pt)" fill-opacity="0.39"/>
<rect x="637" y="27.4" width="1" height="29.2" fill="url(#pt)" fill-opacity="0.37"/>
<rect x="641" y="27.4" width="1" height="29.2" fill="url(#pb)" fill-opacity="0.39"/>
<rect x="642" y="27.4" width="1" height="29.2" fill="url(#pb)" fill-opacity="0.39"/>
<rect x="643" y="27.4" width="1" height="29.2" fill="url(#pb)" fill-opacity="0.07"/>
<rect x="644" y="27.4" width="1" height="29.2" fill="url(#pb)" fill-opacity="0.36"/>
<rect x="645" y="27.4" width="1" height="29.2" fill="url(#pb)" fill-opacity="0.41"/>
<rect x="646" y="27.4" width="1" height="29.2" fill="url(#pb)" fill-opacity="0.09"/>
<rect x="647" y="27.4" width="1" height="29.2" fill="url(#pb)" fill-opacity="0.42"/>
<rect x="650" y="27.4" width="1" height="29.2" fill="url(#pf)" fill-opacity="0.75"/>
<rect x="651" y="27.4" width="1" height="29.2" fill="url(#pf)" fill-opacity="0.73"/>
<rect x="652" y="27.4" width="1" height="29.2" fill="url(#pf)" fill-opacity="0.69"/>
<rect x="654" y="27.4" width="1" height="29.2" fill="url(#pb)" fill-opacity="0.35"/>
<rect x="655" y="27.4" width="1" height="29.2" fill="url(#pb)" fill-opacity="0.36"/>
<rect x="656" y="27.4" width="1" height="29.2" fill="url(#pb)" fill-opacity="0.08"/>
<rect x="657" y="27.4" width="1" height="29.2" fill="url(#pb)" fill-opacity="0.40"/>
<rect x="658" y="27.4" width="1" height="29.2" fill="url(#pb)" fill-opacity="0.36"/>
<rect x="659" y="27.4" width="1" height="29.2" fill="url(#pb)" fill-opacity="0.41"/>
<rect x="662" y="27.4" width="1" height="29.2" fill="url(#pt)" fill-opacity="0.39"/>
<rect x="664" y="27.4" width="1" height="29.2" fill="url(#pb)" fill-opacity="0.05"/>
<rect x="665" y="27.4" width="1" height="29.2" fill="url(#pb)" fill-opacity="0.35"/>
<rect x="666" y="27.4" width="1" height="29.2" fill="url(#pb)" fill-opacity="0.05"/>
<rect x="667" y="27.4" width="1" height="29.2" fill="url(#pb)" fill-opacity="0.42"/>
<rect x="668" y="27.4" width="1" height="29.2" fill="url(#pb)" fill-opacity="0.06"/>
<rect x="669" y="27.4" width="1" height="29.2" fill="url(#pb)" fill-opacity="0.41"/>
<rect x="670" y="27.4" width="1" height="29.2" fill="url(#pb)" fill-opacity="0.42"/>
<rect x="674" y="27.4" width="1" height="29.2" fill="url(#pt)" fill-opacity="0.39"/>
<path d="M561.0,32.4 Q562.9,41.0 565.4,49.5" stroke="#7d7d7d" stroke-width="1.29" fill="none"/><path d="M559.4,33.5 Q560.4,43.6 563.1,53.7" stroke="#7d7d7d" stroke-width="1.28" fill="none"/><path d="M560.4,35.6 Q563.5,44.9 563.5,54.2" stroke="#888888" stroke-width="1.06" fill="none"/><path d="M559.5,50.2 Q562.5,56.0 565.5,49.3" stroke="#707070" stroke-width="1" fill="none"/><ellipse cx="563.4" cy="42.7" rx="0.9" ry="1.2" fill="#e8e8e8"/><ellipse cx="563.2" cy="39.6" rx="0.9" ry="1.2" fill="#e8e8e8"/><path d="M579.9,34.6 Q582.0,42.1 584.5,49.5" stroke="#7c7c7c" stroke-width="1.23" fill="none"/><path d="M581.9,29.9 Q584.3,41.6 584.6,53.2" stroke="#7a7a7a" stroke-width="0.90" fill="none"/><path d="M580.8,31.2 Q581.1,42.6 585.1,53.9" stroke="#8b8b8b" stroke-width="0.91" fill="none"/><path d="M580.5,50.2 Q583.5,56.0 586.5,49.3" stroke="#707070" stroke-width="1" fill="none"/><ellipse cx="583.7" cy="43.0" rx="0.9" ry="1.2" fill="#e8e8e8"/><ellipse cx="583.0" cy="37.7" rx="0.9" ry="1.2" fill="#e8e8e8"/><path d="M601.4,30.1 Q604.7,39.2 606.2,48.4" stroke="#888888" stroke-width="1.23" fill="none"/><path d="M599.4,33.6 Q601.2,42.6 603.4,51.6" stroke="#707070" stroke-width="1.10" fill="none"/><path d="M600.7,35.8 Q602.2,43.6 605.7,51.3" stroke="#7a7a7a" stroke-width="0.92" fill="none"/><path d="M599.5,50.2 Q602.5,56.0 605.5,49.3" stroke="#707070" stroke-width="1" fill="none"/><ellipse cx="600.6" cy="39.6" rx="0.9" ry="1.2" fill="#e8e8e8"/><ellipse cx="601.8" cy="38.9" rx="0.9" ry="1.2" fill="#e8e8e8"/><path d="M641.5,32.1 Q641.7,41.9 645.4,51.7" stroke="#818181" stroke-width="0.91" fill="none"/><path d="M643.3,31.2 Q646.2,42.7 646.5,54.2" stroke="#7b7b7b" stroke-width="1.14" fill="none"/><path d="M642.7,33.8 Q645.1,43.6 645.6,53.4" stroke="#7d7d7d" stroke-width="1.24" fill="none"/><path d="M641.8,50.2 Q644.8,56.0 647.8,49.3" stroke="#707070" stroke-width="1" fill="none"/><ellipse cx="643.1" cy="41.7" rx="0.9" ry="1.2" fill="#e8e8e8"/><ellipse cx="645.2" cy="38.4" rx="0.9" ry="1.2" fill="#e8e8e8"/><path d="M654.5,32.3 Q655.5,40.6 657.3,48.8" stroke="#6d6d6d" stroke-width="1.36" fill="none"/><path d="M656.2,31.2 Q657.1,41.2 660.6,51.3" stroke="#747474" stroke-width="0.95" fill="none"/><path d="M654.4,35.1 Q655.6,44.0 659.3,53.0" stroke="#878787" stroke-width="1.05" fill="none"/><path d="M654.8,50.2 Q657.8,56.0 660.8,49.3" stroke="#707070" stroke-width="1" fill="none"/><ellipse cx="658.3" cy="41.5" rx="0.9" ry="1.2" fill="#e8e8e8"/><ellipse cx="659.2" cy="42.6" rx="0.9" ry="1.2" fill="#e8e8e8"/><path d="M666.1,34.8 Q669.9,44.4 670.4,53.9" stroke="#858585" stroke-width="0.91" fill="none"/><path d="M665.6,33.9 Q667.9,43.8 670.5,53.6" stroke="#6f6f6f" stroke-width="1.02" fill="none"/><path d="M665.8,29.8 Q669.5,39.5 669.8,49.2" stroke="#757575" stroke-width="1.28" fill="none"/><path d="M665.2,50.2 Q668.2,56.0 671.2,49.3" stroke="#707070" stroke-width="1" fill="none"/><ellipse cx="666.8" cy="42.0" rx="0.9" ry="1.2" fill="#e8e8e8"/><ellipse cx="666.8" cy="40.7" rx="0.9" ry="1.2" fill="#e8e8e8"/>
<rect x="549.8" y="27.4" width="130.2" height="29.2" fill="url(#harm)"/>
<rect x="549.80" y="55.40" width="130.20" height="1.20" fill="#545454"/>
</g>
<rect x="586.50" y="59.00" width="66.20" height="1.70" fill="#0a0a0a"/>
<rect x="554.40" y="61.10" width="2.10" height="2.00" fill="#cbb3ae"/>
<rect x="576.40" y="61.10" width="2.40" height="2.00" fill="#cbb3ae"/>
<rect x="586.50" y="61.10" width="31.20" height="2.00" fill="#cbb3ae"/>
<rect x="622.30" y="61.10" width="2.70" height="2.00" fill="#cbb3ae"/>
<rect x="625.00" y="61.10" width="4.70" height="2.00" fill="#e3915a"/>
<rect x="629.70" y="61.10" width="18.10" height="2.00" fill="#6b6b6b"/>
<rect x="647.80" y="61.10" width="4.90" height="2.00" fill="#e3915a"/>
<g filter="url(#spf5)">
<rect x="549.80" y="63.80" width="130.20" height="28.80" fill="#000"/>
<rect x="555" y="63.8" width="1" height="28.8" fill="url(#pt)" fill-opacity="0.47"/>
<rect x="563" y="63.8" width="1" height="28.8" fill="url(#pt)" fill-opacity="0.52"/>
<rect x="577" y="63.8" width="1" height="28.8" fill="url(#pt)" fill-opacity="0.52"/>
<rect x="587" y="63.8" width="1" height="28.8" fill="url(#pt)" fill-opacity="0.60"/>
<rect x="590" y="63.8" width="1" height="28.8" fill="url(#pt)" fill-opacity="0.52"/>
<rect x="593" y="63.8" width="1" height="28.8" fill="url(#pt)" fill-opacity="0.52"/>
<rect x="596" y="63.8" width="1" height="28.8" fill="url(#pt)" fill-opacity="0.51"/>
<rect x="600" y="63.8" width="1" height="28.8" fill="url(#pt)" fill-opacity="0.52"/>
<rect x="603" y="63.8" width="1" height="28.8" fill="url(#pt)" fill-opacity="0.59"/>
<rect x="607" y="63.8" width="1" height="28.8" fill="url(#pt)" fill-opacity="0.51"/>
<rect x="610" y="63.8" width="1" height="28.8" fill="url(#pt)" fill-opacity="0.56"/>
<rect x="614" y="63.8" width="1" height="28.8" fill="url(#pt)" fill-opacity="0.52"/>
<rect x="617" y="63.8" width="1" height="28.8" fill="url(#pt)" fill-opacity="0.53"/>
<rect x="620" y="63.8" width="1" height="28.8" fill="url(#pt)" fill-opacity="0.55"/>
<rect x="623" y="63.8" width="1" height="28.8" fill="url(#pt)" fill-opacity="0.60"/>
<rect x="626" y="63.8" width="1" height="28.8" fill="url(#pf)" fill-opacity="0.73"/>
<rect x="627" y="63.8" width="1" height="28.8" fill="url(#pf)" fill-opacity="0.66"/>
<rect x="628" y="63.8" width="1" height="28.8" fill="url(#pf)" fill-opacity="0.70"/>
<rect x="629" y="63.8" width="1" height="28.8" fill="url(#pf)" fill-opacity="0.68"/>
<rect x="631" y="63.8" width="1" height="28.8" fill="url(#pt)" fill-opacity="0.49"/>
<rect x="632" y="63.8" width="1" height="28.8" fill="url(#pt)" fill-opacity="0.48"/>
<rect x="633" y="63.8" width="1" height="28.8" fill="url(#pb)" fill-opacity="0.43"/>
<rect x="634" y="63.8" width="1" height="28.8" fill="url(#pb)" fill-opacity="0.11"/>
<rect x="635" y="63.8" width="1" height="28.8" fill="url(#pb)" fill-opacity="0.41"/>
<rect x="636" y="63.8" width="1" height="28.8" fill="url(#pb)" fill-opacity="0.07"/>
<rect x="637" y="63.8" width="1" height="28.8" fill="url(#pb)" fill-opacity="0.38"/>
<rect x="638" y="63.8" width="1" height="28.8" fill="url(#pb)" fill-opacity="0.10"/>
<rect x="639" y="63.8" width="1" height="28.8" fill="url(#pb)" fill-opacity="0.38"/>
<rect x="641" y="63.8" width="1" height="28.8" fill="url(#pf)" fill-opacity="0.66"/>
<rect x="642" y="63.8" width="1" height="28.8" fill="url(#pf)" fill-opacity="0.63"/>
<rect x="643" y="63.8" width="1" height="28.8" fill="url(#pf)" fill-opacity="0.63"/>
<rect x="645" y="63.8" width="1" height="28.8" fill="url(#pb)" fill-opacity="0.41"/>
<rect x="646" y="63.8" width="1" height="28.8" fill="url(#pb)" fill-opacity="0.07"/>
<rect x="647" y="63.8" width="1" height="28.8" fill="url(#pb)" fill-opacity="0.39"/>
<rect x="648" y="63.8" width="1" height="28.8" fill="url(#pb)" fill-opacity="0.05"/>
<rect x="650" y="63.8" width="1" height="28.8" fill="url(#pf)" fill-opacity="0.73"/>
<rect x="651" y="63.8" width="1" height="28.8" fill="url(#pf)" fill-opacity="0.77"/>
<rect x="652" y="63.8" width="1" height="28.8" fill="url(#pf)" fill-opacity="0.79"/>
<path d="M633.5,70.1 Q636.8,78.6 637.7,87.0" stroke="#727272" stroke-width="1.30" fill="none"/><path d="M634.5,67.6 Q636.8,75.8 638.3,84.0" stroke="#787878" stroke-width="0.93" fill="none"/><path d="M635.4,67.6 Q637.9,75.9 638.5,84.2" stroke="#8e8e8e" stroke-width="1.34" fill="none"/><path d="M634.0,86.3 Q637.0,92.0 640.0,85.4" stroke="#707070" stroke-width="1" fill="none"/><ellipse cx="637.5" cy="72.7" rx="0.9" ry="1.2" fill="#e8e8e8"/><ellipse cx="636.3" cy="76.0" rx="0.9" ry="1.2" fill="#e8e8e8"/><path d="M647.4,66.3 Q647.3,78.3 650.2,90.3" stroke="#717171" stroke-width="1.23" fill="none"/><path d="M645.5,67.6 Q648.3,78.8 650.3,90.0" stroke="#767676" stroke-width="1.37" fill="none"/><path d="M646.6,70.6 Q649.3,77.4 651.4,84.3" stroke="#8a8a8a" stroke-width="1.06" fill="none"/><path d="M645.5,86.3 Q648.5,92.0 651.5,85.4" stroke="#707070" stroke-width="1" fill="none"/><ellipse cx="647.3" cy="78.6" rx="0.9" ry="1.2" fill="#e8e8e8"/><ellipse cx="648.8" cy="79.2" rx="0.9" ry="1.2" fill="#e8e8e8"/>
<rect x="549.8" y="63.8" width="130.2" height="28.8" fill="url(#harm)"/>
<rect x="549.80" y="91.40" width="130.20" height="1.20" fill="#5c5c5c"/>
</g>
<rect x="656.50" y="65.00" width="22.50" height="1.50" fill="#fff"/>
<rect x="567.00" y="94.10" width="55.30" height="1.40" fill="#0a0a0a"/>
<rect x="567.00" y="95.80" width="39.30" height="2.10" fill="#cbb3ae"/>
<rect x="618.20" y="95.80" width="4.10" height="2.10" fill="#e3915a"/>
<g filter="url(#spf6)">
<rect x="550.10" y="98.80" width="117.30" height="27.70" fill="#000"/>
<rect x="567" y="98.8" width="1" height="27.7" fill="url(#pt)" fill-opacity="0.54"/>
<rect x="570" y="98.8" width="1" height="27.7" fill="url(#pt)" fill-opacity="0.58"/>
<rect x="574" y="98.8" width="1" height="27.7" fill="url(#pt)" fill-opacity="0.60"/>
<rect x="578" y="98.8" width="1" height="27.7" fill="url(#pt)" fill-opacity="0.51"/>
<rect x="581" y="98.8" width="1" height="27.7" fill="url(#pt)" fill-opacity="0.57"/>
<rect x="584" y="98.8" width="1" height="27.7" fill="url(#pt)" fill-opacity="0.56"/>
<rect x="588" y="98.8" width="1" height="27.7" fill="url(#pt)" fill-opacity="0.56"/>
<rect x="591" y="98.8" width="1" height="27.7" fill="url(#pt)" fill-opacity="0.49"/>
<rect x="595" y="98.8" width="1" height="27.7" fill="url(#pt)" fill-opacity="0.48"/>
<rect x="598" y="98.8" width="1" height="27.7" fill="url(#pt)" fill-opacity="0.53"/>
<rect x="606" y="98.8" width="1" height="27.7" fill="url(#pt)" fill-opacity="0.43"/>
<rect x="620" y="98.8" width="1" height="27.7" fill="url(#pp)" fill-opacity="0.76"/>
<rect x="621" y="98.8" width="1" height="27.7" fill="url(#pp)" fill-opacity="0.80"/>
<rect x="622" y="98.8" width="1" height="27.7" fill="url(#pp)" fill-opacity="0.77"/>
<rect x="550.1" y="98.8" width="117.3" height="27.7" fill="url(#harm)"/>
<rect x="550.10" y="125.50" width="117.30" height="1.00" fill="#575757"/>
</g>
<rect x="578.10" y="128.60" width="47.60" height="1.30" fill="#0a0a0a"/>
<rect x="578.10" y="130.40" width="43.50" height="2.10" fill="#cbb3ae"/>
<rect x="621.60" y="130.40" width="4.10" height="2.10" fill="#e3915a"/>
<rect x="639.40" y="130.40" width="1.60" height="2.10" fill="#cbb3ae"/>
<rect x="641.00" y="130.40" width="6.60" height="2.10" fill="#e3915a"/>
<g filter="url(#spf7)">
<rect x="550.10" y="133.00" width="129.90" height="29.60" fill="#000"/>
<rect x="559" y="133" width="1" height="29.6" fill="url(#pt)" fill-opacity="0.33"/>
<rect x="579" y="133" width="1" height="29.6" fill="url(#pt)" fill-opacity="0.57"/>
<rect x="587" y="133" width="1" height="29.6" fill="url(#pt)" fill-opacity="0.54"/>
<rect x="590" y="133" width="1" height="29.6" fill="url(#pt)" fill-opacity="0.54"/>
<rect x="595" y="133" width="1" height="29.6" fill="url(#pt)" fill-opacity="0.53"/>
<rect x="599" y="133" width="1" height="29.6" fill="url(#pt)" fill-opacity="0.60"/>
<rect x="603" y="133" width="1" height="29.6" fill="url(#pt)" fill-opacity="0.51"/>
<rect x="607" y="133" width="1" height="29.6" fill="url(#pt)" fill-opacity="0.50"/>
<rect x="611" y="133" width="1" height="29.6" fill="url(#pt)" fill-opacity="0.51"/>
<rect x="616" y="133" width="1" height="29.6" fill="url(#pt)" fill-opacity="0.51"/>
<rect x="619" y="133" width="1" height="29.6" fill="url(#pt)" fill-opacity="0.52"/>
<rect x="622" y="133" width="1" height="29.6" fill="url(#pp)" fill-opacity="0.80"/>
<rect x="623" y="133" width="1" height="29.6" fill="url(#pp)" fill-opacity="0.78"/>
<rect x="624" y="133" width="1" height="29.6" fill="url(#pp)" fill-opacity="0.81"/>
<rect x="625" y="133" width="1" height="29.6" fill="url(#pp)" fill-opacity="0.81"/>
<rect x="641" y="133" width="1" height="29.6" fill="url(#pb)" fill-opacity="0.80"/>
<rect x="642" y="133" width="1" height="29.6" fill="url(#pb)" fill-opacity="0.76"/>
<rect x="643" y="133" width="1" height="29.6" fill="url(#pb)" fill-opacity="0.74"/>
<rect x="644" y="133" width="1" height="29.6" fill="url(#pb)" fill-opacity="0.76"/>
<rect x="645" y="133" width="1" height="29.6" fill="url(#pb)" fill-opacity="0.80"/>
<rect x="646" y="133" width="1" height="29.6" fill="url(#pb)" fill-opacity="0.78"/>
<rect x="647" y="133" width="1" height="29.6" fill="url(#pb)" fill-opacity="0.83"/>
<rect x="550.1" y="133" width="129.9" height="29.6" fill="url(#harm)"/>
<rect x="550.10" y="161.60" width="129.90" height="1.00" fill="#575757"/>
</g>
<rect x="577.30" y="163.80" width="36.20" height="1.50" fill="#0a0a0a"/>
<rect x="621.00" y="163.80" width="17.00" height="1.50" fill="#0a0a0a"/>
<rect x="561.50" y="165.80" width="2.00" height="2.10" fill="#cbb3ae"/>
<rect x="577.30" y="165.80" width="28.60" height="2.10" fill="#cbb3ae"/>
<rect x="605.90" y="165.80" width="4.10" height="2.10" fill="#e3915a"/>
<rect x="621.00" y="165.80" width="17.00" height="2.10" fill="#cbb3ae"/>
<g filter="url(#spf8)">
<rect x="550.10" y="168.80" width="129.90" height="28.00" fill="#000"/>
<rect x="562" y="168.8" width="1" height="28" fill="url(#pt)" fill-opacity="0.44"/>
<rect x="578" y="168.8" width="1" height="28" fill="url(#pt)" fill-opacity="0.59"/>
<rect x="581" y="168.8" width="1" height="28" fill="url(#pt)" fill-opacity="0.59"/>
<rect x="584" y="168.8" width="1" height="28" fill="url(#pt)" fill-opacity="0.49"/>
<rect x="587" y="168.8" width="1" height="28" fill="url(#pt)" fill-opacity="0.55"/>
<rect x="590" y="168.8" width="1" height="28" fill="url(#pt)" fill-opacity="0.53"/>
<rect x="593" y="168.8" width="1" height="28" fill="url(#pt)" fill-opacity="0.54"/>
<rect x="596" y="168.8" width="1" height="28" fill="url(#pt)" fill-opacity="0.50"/>
<rect x="606" y="168.8" width="1" height="28" fill="url(#pb)" fill-opacity="0.77"/>
<rect x="607" y="168.8" width="1" height="28" fill="url(#pb)" fill-opacity="0.81"/>
<rect x="608" y="168.8" width="1" height="28" fill="url(#pb)" fill-opacity="0.78"/>
<rect x="609" y="168.8" width="1" height="28" fill="url(#pb)" fill-opacity="0.81"/>
<rect x="612" y="168.8" width="1" height="28" fill="url(#pt)" fill-opacity="0.40"/>
<rect x="623" y="168.8" width="1" height="28" fill="url(#pt)" fill-opacity="0.37"/>
<rect x="626" y="168.8" width="1" height="28" fill="url(#pt)" fill-opacity="0.42"/>
<rect x="630" y="168.8" width="1" height="28" fill="url(#pt)" fill-opacity="0.40"/>
<rect x="633" y="168.8" width="1" height="28" fill="url(#pt)" fill-opacity="0.41"/>
<rect x="636" y="168.8" width="1" height="28" fill="url(#pt)" fill-opacity="0.43"/>
<rect x="550.1" y="168.8" width="129.9" height="28" fill="url(#harm)"/>
<rect x="550.10" y="195.80" width="129.90" height="1.00" fill="#575757"/>
</g>
<text transform="translate(62.6,71.5) rotate(-90)" text-anchor="middle" stroke="#000" stroke-width="0.2">Pre</text>
<text transform="translate(62.6,123) rotate(-90)" text-anchor="middle" stroke="#000" stroke-width="0.2">Post</text>
<text transform="translate(546.5,41.7) rotate(-90)" text-anchor="middle" stroke="#000" stroke-width="0.2">Pre</text>
<text transform="translate(546.5,77.7) rotate(-90)" text-anchor="middle" stroke="#000" stroke-width="0.2">Post</text>
<text x="24.5" y="47.6" text-anchor="middle" stroke="#000" stroke-width="0.2">Uva</text>
<text x="24.5" y="57.5" text-anchor="middle" stroke="#000" stroke-width="0.2">excitotoxic</text>
<text x="24.5" y="67.1" text-anchor="middle" stroke="#000" stroke-width="0.2">lesion</text>
<g transform="translate(0,0) scale(1.0)"><path d="M15.3,72 C17,68.6 27,68.3 35,70.6 C44,73.2 50.5,79 49.6,85.6 C49,89.6 47,91.6 43.5,92 C39,92.4 35,92.2 32.5,93 C30.5,94.6 29.5,97.4 26.5,99.4 C22.5,101.8 15,102.2 10.5,100.2 C7.4,98.7 7.6,95.5 9.6,93.6 C9,90 8.5,84 10.5,79 C11.8,75.8 13.6,73.6 15.3,72 Z" fill="#f1f1f1" stroke="#5a5a5a" stroke-width="0.5"/><path d="M24,83.5 C31,79.5 40,80.5 46,85.5" fill="none" stroke="#d2d2d2" stroke-width="0.45"/><path d="M23,86.8 C30,83.5 39,84.5 43.5,90.5" fill="none" stroke="#d8d8d8" stroke-width="0.45"/><path d="M24,88 C25,92 24,96 21,99" fill="none" stroke="#d8d8d8" stroke-width="0.4"/><path d="M33,92.6 C33.5,91 33,89.5 32,88.5" fill="none" stroke="#9a9a9a" stroke-width="0.4"/><path d="M9.5,80.5 C7,82 6.5,85 8.5,86 C6,87.5 6.2,90.8 8.8,91 C7.4,93 9,95.2 11.4,94.4 M11.5,79.5 C14.5,78.6 16.5,80.6 15,82.6 C17.2,83.6 16.8,86.8 14.6,86.9 C16.8,88.4 15.8,91.6 13,91.2 M9.6,83.6 C11.2,82.2 13.4,83.2 12.4,85.2 C11.4,86.8 13,88.4 14,87.8 M9.4,88.4 C10.8,87.4 12.4,89 11.4,90.6 M12.5,92 C13.5,93.5 15.5,93.5 16,92 M7.8,84 C9,84.8 10,84.5 10.6,83.6 M15.5,77.5 C17,79 18,82 17.5,86 M10.5,91.5 C11.5,92.8 13,92.6 13.6,91.8" fill="none" stroke="#7a7a7a" stroke-width="0.6"/><path d="M15.8,71.6 C15.2,76 15.6,81 16.4,85.5" fill="none" stroke="#8a8a8a" stroke-width="0.4"/></g>
<g transform="translate(1.5,95.5) scale(1.0)"><path d="M15.3,72 C17,68.6 27,68.3 35,70.6 C44,73.2 50.5,79 49.6,85.6 C49,89.6 47,91.6 43.5,92 C39,92.4 35,92.2 32.5,93 C30.5,94.6 29.5,97.4 26.5,99.4 C22.5,101.8 15,102.2 10.5,100.2 C7.4,98.7 7.6,95.5 9.6,93.6 C9,90 8.5,84 10.5,79 C11.8,75.8 13.6,73.6 15.3,72 Z" fill="#f1f1f1" stroke="#5a5a5a" stroke-width="0.5"/><path d="M24,83.5 C31,79.5 40,80.5 46,85.5" fill="none" stroke="#d2d2d2" stroke-width="0.45"/><path d="M23,86.8 C30,83.5 39,84.5 43.5,90.5" fill="none" stroke="#d8d8d8" stroke-width="0.45"/><path d="M24,88 C25,92 24,96 21,99" fill="none" stroke="#d8d8d8" stroke-width="0.4"/><path d="M33,92.6 C33.5,91 33,89.5 32,88.5" fill="none" stroke="#9a9a9a" stroke-width="0.4"/><path d="M9.5,80.5 C7,82 6.5,85 8.5,86 C6,87.5 6.2,90.8 8.8,91 C7.4,93 9,95.2 11.4,94.4 M11.5,79.5 C14.5,78.6 16.5,80.6 15,82.6 C17.2,83.6 16.8,86.8 14.6,86.9 C16.8,88.4 15.8,91.6 13,91.2 M9.6,83.6 C11.2,82.2 13.4,83.2 12.4,85.2 C11.4,86.8 13,88.4 14,87.8 M9.4,88.4 C10.8,87.4 12.4,89 11.4,90.6 M12.5,92 C13.5,93.5 15.5,93.5 16,92 M7.8,84 C9,84.8 10,84.5 10.6,83.6 M15.5,77.5 C17,79 18,82 17.5,86 M10.5,91.5 C11.5,92.8 13,92.6 13.6,91.8" fill="none" stroke="#7a7a7a" stroke-width="0.6"/><path d="M15.8,71.6 C15.2,76 15.6,81 16.4,85.5" fill="none" stroke="#8a8a8a" stroke-width="0.4"/></g>
<g transform="translate(14.2,81.6) rotate(29)"><rect x="-10.5" y="-1.7" width="12.5" height="3.4" rx="0.4" fill="#3a3a3a" stroke="#111" stroke-width="0.4"/><rect x="-8.5" y="-0.8" width="7" height="1.6" fill="#bdbdbd"/><rect x="-13" y="-2.6" width="1.6" height="5.2" fill="#222"/><rect x="-12" y="-0.6" width="2" height="1.2" fill="#222"/><line x1="2" y1="0" x2="8.2" y2="0" stroke="#222" stroke-width="0.7"/></g>
<ellipse cx="23.6" cy="86.7" rx="2.1" ry="1.4" fill="#111" transform="rotate(20 23.6 86.7)"/><ellipse cx="23.6" cy="86.7" rx="1" ry="0.5" fill="#555" transform="rotate(20 23.6 86.7)"/>
<line x1="31.8" y1="97.6" x2="31.8" y2="110.9" stroke="#222" stroke-width="0.8"/>
<path d="M30.1,108.2 L31.8,111.4 L33.5,108.2" fill="none" stroke="#222" stroke-width="0.8"/>
<line x1="31.8" y1="146.5" x2="31.8" y2="162.3" stroke="#222" stroke-width="0.8"/>
<path d="M30.1,159.60000000000002 L31.8,162.8 L33.5,159.60000000000002" fill="none" stroke="#222" stroke-width="0.8"/>
<g transform="translate(44.2,106.0) scale(0.88)"><ellipse cx="1.6" cy="7.6" rx="1.7" ry="1.3" fill="#000" transform="rotate(-20 1.6 7.6)"/><ellipse cx="6.4" cy="6.4" rx="1.7" ry="1.3" fill="#000" transform="rotate(-20 6.4 6.4)"/><path d="M3.1,7.3 L3.1,1.2 L7.9,0 L7.9,6.1" fill="none" stroke="#000" stroke-width="0.7"/><path d="M3.1,1.2 L7.9,0 L7.9,1.2 L3.1,2.4 Z" fill="#000"/></g>
<g transform="translate(21.1,114) scale(1.0)"><path d="M6.5,26.4 L6.5,30.6 M14,26.4 L14,30.6" stroke="#444" stroke-width="0.6" fill="none"/><path d="M4.2,31.8 L6.5,30.4 L8.9,31.8 M11.7,31.8 L14,30.4 L16.4,31.8" stroke="#000" stroke-width="0.9" fill="none"/><path d="M0.2,26.4 C1.2,21 2.8,14 3.4,8 C3.8,2.5 6.5,0 10.2,0 C14,0 16.9,2.5 17.5,6.5 C18.3,12 18.8,20 19.3,26.4 Z" fill="#757575" stroke="#0a0a0a" stroke-width="0.75"/><path d="M12.2,14.6 C9.8,16.6 9.4,22.4 11.8,24.8 C14.8,25.8 18.2,24.6 18.8,22.4 C18.7,18.6 17.8,15.6 16.2,14 Z" fill="#fff"/><path d="M12.2,14.6 C9.4,16.6 9,22.6 11.8,24.8 C10.9,22.4 10.9,17.8 13.2,15.2 Z" fill="#7a3210"/><path d="M13.6,10.2 L17.8,10.2 L18.1,14.4 L16,14.6 C14.9,13.4 14,11.9 13.6,10.2 Z" fill="#0a0a0a"/><path d="M15,10.9 L15.5,14 M16.6,10.8 L17,14.1" stroke="#fff" stroke-width="0.45"/><ellipse cx="11.6" cy="8.8" rx="1.9" ry="2.2" fill="#f2643c"/><circle cx="13.7" cy="6.2" r="0.6" fill="#000"/><path d="M15.2,7.4 L20.8,4.4 L18.5,7.9 L21,11 L15.3,9.3 Z" fill="#ee1c1c"/></g>
<g clip-path="url(#mclip)">
<rect x="2.30" y="211.00" width="176.70" height="177.00" fill="#030303"/>
<ellipse cx="108" cy="214" rx="6" ry="3.5" fill="#1c1c1c" filter="url(#blur2)"/>
<ellipse cx="30" cy="338" rx="15" ry="5" fill="#101010" filter="url(#blur2)"/>
<g clip-path="url(#tclip)">
<rect x="2.30" y="211.00" width="176.70" height="177.00" fill="#1f351d"/>
<ellipse cx="30" cy="298" rx="28" ry="20" fill="#3c4f3c" filter="url(#blur6)"/>
<ellipse cx="40" cy="270" rx="26" ry="14" fill="#2f452f" filter="url(#blur4)"/>
<ellipse cx="150" cy="240" rx="30" ry="12" fill="#2a4a2a" filter="url(#blur4)"/>
<path d="M2.3,281 C5,271 10,261 18,254.5 C28,247.5 42,241.5 56,236.5 C64,233.5 70,231 76,229" fill="none" stroke="#3f6e3c" stroke-width="3.6"/>
<path d="M4.5,286 C8,275 13,265 21,258.5 C31,251.5 45,245.5 59,240.5 C66,237.5 71,235 77,232" fill="none" stroke="#0e1a0e" stroke-width="1"/>
<rect x="2.30" y="211.00" width="176.70" height="177.00" fill="#fff" filter="url(#grain)" opacity="0.2"/>
<rect x="2.30" y="211.00" width="176.70" height="177.00" fill="#fff" filter="url(#wspk)" opacity="0.33"/>
<rect x="2.30" y="211.00" width="176.70" height="177.00" fill="#fff" filter="url(#gspk)" opacity="0.8"/>
<path d="M3,284 C4,276 8,270 14,266.5 C16.5,270 17,277 15.5,283 C13.5,289 8,293 3,294 Z" fill="#36b836" filter="url(#blur1)"/>
<path d="M4,281 C5,276 8,272 12.5,269.5 C14,273 14,278 12.5,282 C10.5,286 7,288 4,289 Z" fill="#5ad85a" opacity="0.55" filter="url(#blur1)"/>
<path d="M68,281 L76,286" stroke="#4ec04e" stroke-width="1.4" opacity="0.8" filter="url(#blur1)"/>
<path d="M28,262 L36,271" stroke="#3c9c3c" stroke-width="0.9" opacity="0.7"/>
<ellipse cx="68" cy="350" rx="9" ry="7" fill="#3d8a3d" opacity="0.6" filter="url(#blur2)"/>
<path d="M62,336 C66,342 70,348 76,352" stroke="#50c050" stroke-width="1" fill="none" opacity="0.7"/>
</g>
<g clip-path="url(#i1clip)">
<rect x="112.40" y="230.40" width="65.60" height="64.70" fill="#2e452e"/>
<ellipse cx="130" cy="282" rx="22" ry="16" fill="#4c5c4c" filter="url(#blur4)"/>
<rect x="112.40" y="230.40" width="65.60" height="64.70" fill="#fff" filter="url(#grain)" opacity="0.38"/>
<rect x="112.40" y="230.40" width="65.60" height="64.70" fill="#fff" filter="url(#wspk)" opacity="0.85"/>
<path d="M126,250 C138,258 152,268 172,281" stroke="#2fb02f" stroke-width="11" fill="none" opacity="0.45" filter="url(#blur4)"/>
<rect x="112.40" y="230.40" width="65.60" height="64.70" fill="#fff" filter="url(#gspk)" opacity="0.95"/>
<circle cx="153.8" cy="263.2" r="1.02" fill="#52f052" opacity="0.7"/>
<circle cx="159.8" cy="272.3" r="0.73" fill="#52f052" opacity="0.7"/>
<circle cx="163.2" cy="272.4" r="0.52" fill="#52f052" opacity="0.7"/>
<circle cx="147.8" cy="269.5" r="0.79" fill="#52f052" opacity="0.7"/>
<circle cx="129.1" cy="255.1" r="1.00" fill="#52f052" opacity="0.7"/>
<circle cx="163.5" cy="278.7" r="0.53" fill="#52f052" opacity="0.7"/>
<circle cx="154.1" cy="269.4" r="0.97" fill="#52f052" opacity="0.7"/>
<circle cx="138.9" cy="267.6" r="0.97" fill="#52f052" opacity="0.7"/>
<circle cx="144.4" cy="259.1" r="0.86" fill="#52f052" opacity="0.7"/>
<circle cx="141.6" cy="255.8" r="1.03" fill="#52f052" opacity="0.7"/>
<circle cx="164.5" cy="280.2" r="0.55" fill="#52f052" opacity="0.7"/>
<circle cx="136.8" cy="257.3" r="0.81" fill="#52f052" opacity="0.7"/>
<circle cx="126.8" cy="249.2" r="0.64" fill="#52f052" opacity="0.7"/>
<circle cx="159.4" cy="275.3" r="0.74" fill="#52f052" opacity="0.7"/>
<circle cx="166.5" cy="275.1" r="0.46" fill="#52f052" opacity="0.7"/>
<circle cx="159.9" cy="272.4" r="0.92" fill="#52f052" opacity="0.7"/>
<circle cx="143.0" cy="262.0" r="0.48" fill="#52f052" opacity="0.7"/>
<circle cx="137.8" cy="256.4" r="0.90" fill="#52f052" opacity="0.7"/>
<circle cx="170.1" cy="276.9" r="0.66" fill="#52f052" opacity="0.7"/>
<circle cx="150.3" cy="265.0" r="0.90" fill="#52f052" opacity="0.7"/>
<circle cx="162.1" cy="273.6" r="1.02" fill="#52f052" opacity="0.7"/>
<circle cx="129.2" cy="258.6" r="1.00" fill="#52f052" opacity="0.7"/>
<circle cx="146.2" cy="259.5" r="0.64" fill="#52f052" opacity="0.7"/>
<circle cx="141.9" cy="262.1" r="0.54" fill="#52f052" opacity="0.7"/>
<circle cx="159.0" cy="271.3" r="0.48" fill="#52f052" opacity="0.7"/>
<circle cx="165.9" cy="278.9" r="0.59" fill="#52f052" opacity="0.7"/>
<circle cx="154.7" cy="265.2" r="0.70" fill="#52f052" opacity="0.7"/>
<circle cx="131.1" cy="253.1" r="0.75" fill="#52f052" opacity="0.7"/>
<circle cx="167.1" cy="279.6" r="1.02" fill="#52f052" opacity="0.7"/>
<circle cx="154.9" cy="268.0" r="0.71" fill="#52f052" opacity="0.7"/>
<circle cx="135.9" cy="253.8" r="0.72" fill="#52f052" opacity="0.7"/>
<circle cx="175.7" cy="272.3" r="0.72" fill="#52f052" opacity="0.7"/>
<circle cx="148.0" cy="261.7" r="0.62" fill="#52f052" opacity="0.7"/>
<circle cx="147.0" cy="266.0" r="1.04" fill="#52f052" opacity="0.7"/>
<circle cx="135" cy="243" r="1.3" fill="#40e040" opacity="0.9"/>
<circle cx="141" cy="236" r="1.1" fill="#40e040" opacity="0.9"/>
<circle cx="128" cy="278" r="1.4" fill="#40e040" opacity="0.9"/>
<circle cx="170" cy="252" r="0.9" fill="#40e040" opacity="0.9"/>
<circle cx="150" cy="232.5" r="1.0" fill="#40e040" opacity="0.9"/>
<circle cx="136" cy="259" r="1.5" fill="#050a05" opacity="0.9" filter="url(#blur1)"/>
<circle cx="165" cy="268" r="1.4" fill="#050a05" opacity="0.9" filter="url(#blur1)"/>
<circle cx="172" cy="290" r="2.4" fill="#050a05" opacity="0.9" filter="url(#blur1)"/>
<circle cx="118" cy="247" r="1.1" fill="#050a05" opacity="0.9" filter="url(#blur1)"/>
</g>
<g clip-path="url(#i2clip)">
<rect x="90.50" y="299.30" width="87.00" height="86.70" fill="#1a331a"/>
<ellipse cx="130" cy="333" rx="22" ry="20" fill="#2f8f2f" opacity="0.8" filter="url(#blur4)"/>
<ellipse cx="124" cy="322" rx="9" ry="10" fill="#3ab03a" opacity="0.55" filter="url(#blur2)"/>
<ellipse cx="140" cy="345" rx="12" ry="8" fill="#35a035" opacity="0.45" filter="url(#blur2)"/>
<ellipse cx="171" cy="322" rx="7" ry="16" fill="#4a5e4a" opacity="0.7" filter="url(#blur4)"/>
<ellipse cx="140" cy="372" rx="30" ry="12" fill="#1a2f1a" opacity="0.7" filter="url(#blur4)"/>
<rect x="90.50" y="299.30" width="87.00" height="86.70" fill="#fff" filter="url(#gspk2)" opacity="0.4"/>
<rect x="90.50" y="299.30" width="87.00" height="86.70" fill="#fff" filter="url(#grain)" opacity="0.12"/>
<rect x="90.50" y="299.30" width="87.00" height="86.70" fill="#fff" filter="url(#gspk)" opacity="0.55"/>
<path d="M90.5,299.3 L143,299.3 C140,302 132,304 124,304.5 C119,305 116.5,308 115.5,313 C114.5,320 110,328 104,334 C99,339 94,344 90.5,349 Z" fill="#030303"/>
<path d="M118,306 C120,311 123,315 125,320" stroke="#4fd04f" stroke-width="0.8" fill="none" opacity="0.7"/>
<path d="M126,318 C130,322 132,330 131,338" stroke="#4fd04f" stroke-width="0.8" fill="none" opacity="0.7"/>
<path d="M133,314 C140,318 146,322 150,330" stroke="#4fd04f" stroke-width="0.8" fill="none" opacity="0.7"/>
<path d="M143,304 C147,303 150,302 153,301" stroke="#4fd04f" stroke-width="0.8" fill="none" opacity="0.7"/>
<path d="M112,336 C118,340 126,343 138,344" stroke="#4fd04f" stroke-width="0.8" fill="none" opacity="0.7"/>
<path d="M150,330 C154,336 160,340 167,342" stroke="#4fd04f" stroke-width="0.8" fill="none" opacity="0.7"/>
<path d="M156,307 C160,310 163,313 166,313" stroke="#4fd04f" stroke-width="0.8" fill="none" opacity="0.7"/>
<path d="M104,349 C110,352 116,355 122,354" stroke="#4fd04f" stroke-width="0.8" fill="none" opacity="0.7"/>
<path d="M121,326 C126,330 128,336 126,342" stroke="#4fd04f" stroke-width="0.8" fill="none" opacity="0.7"/>
<circle cx="172" cy="310" r="0.7" fill="#c8d8c8" opacity="0.8"/>
<circle cx="174" cy="318" r="0.7" fill="#c8d8c8" opacity="0.8"/>
<circle cx="170" cy="326" r="0.7" fill="#c8d8c8" opacity="0.8"/>
<circle cx="173" cy="333" r="0.7" fill="#c8d8c8" opacity="0.8"/>
<circle cx="168" cy="340" r="0.7" fill="#c8d8c8" opacity="0.8"/>
<circle cx="175" cy="345" r="0.7" fill="#c8d8c8" opacity="0.8"/>
<circle cx="166" cy="315" r="0.7" fill="#c8d8c8" opacity="0.8"/>
<path d="M97,364 L99,373 L97.5,384" stroke="#061006" stroke-width="2" fill="none"/>
<circle cx="109" cy="358.5" r="1.9" fill="#040604"/>
<circle cx="126" cy="311" r="1.1" fill="#081008"/>
</g>
</g>
<rect x="112.4" y="230.4" width="65.6" height="64.7" fill="none" stroke="#ffffff" stroke-width="1.1" stroke-dasharray="1.9 3"/>
<rect x="90.5" y="299.3" width="87" height="86.7" fill="none" stroke="#ffffff" stroke-width="1.1" stroke-dasharray="1.9 3"/>
<rect x="60" y="272.3" width="21.7" height="20.5" fill="none" stroke="#ffffff" stroke-width="1.1" stroke-dasharray="1.9 3"/>
<rect x="49.3" y="332.5" width="32.5" height="32.5" fill="none" stroke="#ffffff" stroke-width="1.1" stroke-dasharray="1.9 3"/>
<path d="M81.7,272.3 L112.4,230.4 M81.7,292.8 L112.4,295.1 M81.8,332.5 L90.5,299.3 M81.8,365 L90.5,386" fill="none" stroke="#ffffff" stroke-width="1.1" stroke-dasharray="1.9 3"/>
<text x="4.6" y="222.2" fill="#22e022">Retrograde tracer inHVC</text>
<text x="4.6" y="231.2" fill="#d8d8d8">NeuN</text>
<text x="21.5" y="280.2" fill="#eeeeee">HVC</text>
<text x="64.7" y="269.6" fill="#eeeeee">Nlf</text>
<text x="33.5" y="352.7" fill="#eeeeee">Uva</text>
<rect x="6.00" y="380.70" width="29.00" height="1.60" fill="#fff"/>
<rect x="165.40" y="243.00" width="8.60" height="1.60" fill="#fff"/>
<rect x="157.80" y="381.00" width="8.00" height="1.50" fill="#fff"/>
<text x="290" y="44.2" fill="#b3693c">PeriUva + Uva lesion</text>
<text x="290" y="52.8" fill="#9a9a9a">periUva lesion, intact Uva</text>
<text x="290" y="61.8" fill="#2323f0">Uva lesion</text>
<line x1="336.1" y1="60.8" x2="345.8" y2="60.8" stroke="#444" stroke-width="0.7"/>
<circle cx="341.10" cy="60.80" r="2.4" fill="#fff" stroke="#444" stroke-width="0.65"/>
<text x="349.9" y="63.7" fill="#222" stroke="#222" stroke-width="0.2">Pre</text>
<line x1="372.3" y1="61.3" x2="381.4" y2="61.3" stroke="#444" stroke-width="0.7"/>
<path d="M374.40,63.20 L376.70,59.20 L379.00,63.20 Z" fill="#fff" stroke="#444" stroke-width="0.7" stroke-linejoin="miter"/>
<text x="385.8" y="63.7" fill="#222" stroke="#222" stroke-width="0.2">Post</text>
<line x1="319.8" y1="76.5" x2="319.8" y2="191.4" stroke="#9a9a9a" stroke-width="0.75"/>
<line x1="317.0" y1="76.5" x2="319.8" y2="76.5" stroke="#9a9a9a" stroke-width="0.75"/>
<line x1="317.0" y1="134" x2="319.8" y2="134" stroke="#9a9a9a" stroke-width="0.75"/>
<line x1="317.0" y1="191.4" x2="319.8" y2="191.4" stroke="#9a9a9a" stroke-width="0.75"/>
<text x="312.6" y="79.6" fill="#222" text-anchor="end" stroke="#222" stroke-width="0.2">100</text>
<text x="312.6" y="137.1" fill="#222" text-anchor="end" stroke="#222" stroke-width="0.2">50</text>
<text x="312.6" y="194.5" fill="#222" text-anchor="end" stroke="#222" stroke-width="0.2">0</text>
<line x1="323" y1="191.4" x2="426" y2="191.4" stroke="#8a8a8a" stroke-width="0.9" stroke-dasharray="0.9 3.5"/>
<text transform="translate(295.3,134.5) rotate(-90)" text-anchor="middle" fill="#222" stroke="#222" stroke-width="0.2">Motif similarity (%)</text>
<path d="M327.5,79 L336.5,79 L353.5,191 L343,191 Z" fill="#bdbdbd"/>
<line x1="327.80" y1="79" x2="343.40" y2="191" stroke="#7c7c7c" stroke-width="0.4"/>
<line x1="328.62" y1="79" x2="344.35" y2="191" stroke="#7c7c7c" stroke-width="0.4"/>
<line x1="329.44" y1="79" x2="345.30" y2="191" stroke="#7c7c7c" stroke-width="0.4"/>
<line x1="330.26" y1="79" x2="346.25" y2="191" stroke="#7c7c7c" stroke-width="0.4"/>
<line x1="331.08" y1="79" x2="347.20" y2="191" stroke="#7c7c7c" stroke-width="0.4"/>
<line x1="331.90" y1="79" x2="348.15" y2="191" stroke="#7c7c7c" stroke-width="0.4"/>
<line x1="332.72" y1="79" x2="349.10" y2="191" stroke="#7c7c7c" stroke-width="0.4"/>
<line x1="333.54" y1="79" x2="350.05" y2="191" stroke="#7c7c7c" stroke-width="0.4"/>
<line x1="334.36" y1="79" x2="351.00" y2="191" stroke="#7c7c7c" stroke-width="0.4"/>
<line x1="335.18" y1="79" x2="351.95" y2="191" stroke="#7c7c7c" stroke-width="0.4"/>
<line x1="336.00" y1="79" x2="352.90" y2="191" stroke="#7c7c7c" stroke-width="0.4"/>
<line x1="334.5" y1="80" x2="350.6" y2="191" stroke="#f4f4f4" stroke-width="0.6"/>
<circle cx="329.30" cy="78.20" r="2.7" fill="#fff" stroke="#b3693c" stroke-width="0.8"/>
<circle cx="333.20" cy="77.90" r="2.7" fill="#fff" stroke="#b3693c" stroke-width="0.8"/>
<circle cx="331.20" cy="80.20" r="2.7" fill="#fff" stroke="#b3693c" stroke-width="0.8"/>
<circle cx="334.60" cy="79.60" r="2.7" fill="#fff" stroke="#b3693c" stroke-width="0.8"/>
<path d="M341.90,193.60 L344.20,189.60 L346.50,193.60 Z" fill="#fff" stroke="#b3693c" stroke-width="0.8" stroke-linejoin="miter"/>
<path d="M345.30,193.60 L347.60,189.60 L349.90,193.60 Z" fill="#fff" stroke="#b3693c" stroke-width="0.8" stroke-linejoin="miter"/>
<path d="M348.90,193.60 L351.20,189.60 L353.50,193.60 Z" fill="#fff" stroke="#b3693c" stroke-width="0.8" stroke-linejoin="miter"/>
<path d="M350.70,193.80 L353.00,189.80 L355.30,193.80 Z" fill="#fff" stroke="#b3693c" stroke-width="0.8" stroke-linejoin="miter"/>
<path d="M343.50,192.60 L345.80,188.60 L348.10,192.60 Z" fill="#fff" stroke="#b3693c" stroke-width="0.8" stroke-linejoin="miter"/>
<path d="M347.10,192.80 L349.40,188.80 L351.70,192.80 Z" fill="#fff" stroke="#b3693c" stroke-width="0.8" stroke-linejoin="miter"/>
<line x1="363.2" y1="80" x2="381.6" y2="189.5" stroke="#555" stroke-width="0.6"/>
<circle cx="363.20" cy="77.60" r="2.8" fill="#fff" stroke="#666" stroke-width="0.6"/>
<path d="M379.20,193.29 L381.60,189.11 L384.00,193.29 Z" fill="#fff" stroke="#888" stroke-width="0.7" stroke-linejoin="miter"/>
<line x1="370.3" y1="80" x2="388.5" y2="189.5" stroke="#555" stroke-width="0.6"/>
<circle cx="370.30" cy="77.60" r="2.8" fill="#fff" stroke="#666" stroke-width="0.6"/>
<path d="M386.10,193.29 L388.50,189.11 L390.90,193.29 Z" fill="#fff" stroke="#888" stroke-width="0.7" stroke-linejoin="miter"/>
<line x1="404" y1="77.6" x2="413.5" y2="78.3" stroke="#777" stroke-width="0.6"/>
<line x1="404" y1="79.8" x2="413.5" y2="82.4" stroke="#777" stroke-width="0.6"/>
<line x1="404" y1="78.6" x2="413.5" y2="80.8" stroke="#777" stroke-width="0.6"/>
<circle cx="393.80" cy="78.20" r="2.8" fill="#fff" stroke="#2323f0" stroke-width="0.8"/>
<circle cx="397.60" cy="78.20" r="2.8" fill="#fff" stroke="#2323f0" stroke-width="0.8"/>
<circle cx="401.40" cy="78.20" r="2.8" fill="#fff" stroke="#2323f0" stroke-width="0.8"/>
<line x1="410.2" y1="79.3" x2="421.6" y2="79.3" stroke="#2323f0" stroke-width="1.1"/>
<line x1="413.1" y1="82.0" x2="419.5" y2="82.0" stroke="#2323f0" stroke-width="0.9"/>
<path d="M413.00,79.49 L415.40,75.31 L417.80,79.49 Z" fill="#fff" stroke="#2323f0" stroke-width="0.8" stroke-linejoin="miter"/>
<path d="M409.90,84.49 L412.30,80.31 L414.70,84.49 Z" fill="#fff" stroke="#2323f0" stroke-width="0.8" stroke-linejoin="miter"/>
<path d="M413.90,82.69 L416.30,78.51 L418.70,82.69 Z" fill="#fff" stroke="#2323f0" stroke-width="0.8" stroke-linejoin="miter"/>
<text x="356.3" y="145.5" fill="#b3693c" text-anchor="middle">***</text>
<text x="386.6" y="145.5" fill="#9a9a9a" text-anchor="middle">***</text>
<text x="410.6" y="142.5" fill="#2323f0" text-anchor="middle">NS</text>
<text x="192.1" y="223.6" fill="#b3693c">PeriUva + Uva</text>
<text x="192.1" y="233.8" fill="#9a9a9a">PeriUva lesion</text>
<text x="192.1" y="243.8" fill="#2323f0">Uva lesion</text>
<line x1="207.1" y1="253.3" x2="207.1" y2="367.9" stroke="#555555" stroke-width="0.75"/>
<line x1="204.29999999999998" y1="253.3" x2="207.1" y2="253.3" stroke="#555555" stroke-width="0.75"/>
<line x1="204.29999999999998" y1="310.6" x2="207.1" y2="310.6" stroke="#555555" stroke-width="0.75"/>
<line x1="204.29999999999998" y1="367.9" x2="207.1" y2="367.9" stroke="#555555" stroke-width="0.75"/>
<text x="201.2" y="256.40000000000003" fill="#222" text-anchor="end" stroke="#222" stroke-width="0.2">100</text>
<text x="201.2" y="371.0" fill="#222" text-anchor="end" stroke="#222" stroke-width="0.2">0</text>
<line x1="211.2" y1="367.9" x2="264.5" y2="367.9" stroke="#8a8a8a" stroke-width="0.9" stroke-dasharray="0.9 3.5"/>
<text transform="translate(190.7,310) rotate(-90)" text-anchor="middle" fill="#222" stroke="#222" stroke-width="0.2">Uva lesion (%)</text>
<line x1="216.5" y1="255.2" x2="231.6" y2="255.2" stroke="#b3693c" stroke-width="0.9"/>
<path d="M216.60,255.51 L218.80,251.69 L221.00,255.51 Z" fill="#fff" stroke="#b3693c" stroke-width="0.75" stroke-linejoin="miter"/>
<path d="M220.30,255.31 L222.50,251.49 L224.70,255.31 Z" fill="#fff" stroke="#b3693c" stroke-width="0.75" stroke-linejoin="miter"/>
<path d="M224.00,255.51 L226.20,251.69 L228.40,255.51 Z" fill="#fff" stroke="#b3693c" stroke-width="0.75" stroke-linejoin="miter"/>
<path d="M227.40,255.61 L229.60,251.79 L231.80,255.61 Z" fill="#fff" stroke="#b3693c" stroke-width="0.75" stroke-linejoin="miter"/>
<path d="M221.80,259.31 L224.00,255.49 L226.20,259.31 Z" fill="#fff" stroke="#b3693c" stroke-width="0.75" stroke-linejoin="miter"/>
<line x1="256.7" y1="251.5" x2="256.7" y2="282.5" stroke="#2323f0" stroke-width="1.0"/>
<line x1="249" y1="268.2" x2="264.7" y2="268.2" stroke="#2323f0" stroke-width="1.3"/>
<line x1="251.4" y1="280.4" x2="262.4" y2="280.4" stroke="#2323f0" stroke-width="1.0"/>
<line x1="251.4" y1="252.6" x2="262.4" y2="252.6" stroke="#2323f0" stroke-width="0.0"/>
<path d="M254.40,255.20 L256.70,251.20 L259.00,255.20 Z" fill="#fff" stroke="#2323f0" stroke-width="0.8" stroke-linejoin="miter"/>
<path d="M254.40,270.90 L256.70,266.90 L259.00,270.90 Z" fill="#fff" stroke="#2323f0" stroke-width="0.8" stroke-linejoin="miter"/>
<path d="M254.40,283.40 L256.70,279.40 L259.00,283.40 Z" fill="#fff" stroke="#2323f0" stroke-width="0.8" stroke-linejoin="miter"/>
<line x1="232.8" y1="355.4" x2="248.3" y2="355.4" stroke="#8a8a8a" stroke-width="1.0"/>
<line x1="235.6" y1="350.6" x2="245.4" y2="350.6" stroke="#8a8a8a" stroke-width="0.8"/>
<line x1="235.6" y1="360.3" x2="245.4" y2="360.3" stroke="#8a8a8a" stroke-width="0.8"/>
<line x1="240.4" y1="350.6" x2="240.4" y2="360.3" stroke="#8a8a8a" stroke-width="0.8"/>
<path d="M238.10,353.10 L240.40,349.10 L242.70,353.10 Z" fill="#fff" stroke="#8a8a8a" stroke-width="0.75" stroke-linejoin="miter"/>
<path d="M238.10,361.90 L240.40,357.90 L242.70,361.90 Z" fill="#fff" stroke="#8a8a8a" stroke-width="0.75" stroke-linejoin="miter"/>
<line x1="287.9" y1="223.6" x2="293.5" y2="223.6" stroke="#111" stroke-width="1.9"/>
<text x="297.5" y="226.6" fill="#222" stroke="#222" stroke-width="0.2">Pre-lesion</text>
<line x1="287.9" y1="233.7" x2="293.5" y2="233.7" stroke="#2323f0" stroke-width="1.9"/>
<text x="297.5" y="237.2" fill="#222" stroke="#222" stroke-width="0.2">Post-lesion</text>
<line x1="296.6" y1="253.3" x2="296.6" y2="368.1" stroke="#555555" stroke-width="0.75"/>
<line x1="293.8" y1="253.3" x2="296.6" y2="253.3" stroke="#555555" stroke-width="0.75"/>
<line x1="293.8" y1="310.7" x2="296.6" y2="310.7" stroke="#555555" stroke-width="0.75"/>
<line x1="293.9" y1="368.1" x2="354.6" y2="368.1" stroke="#555555" stroke-width="0.75"/>
<line x1="300.20" y1="368.1" x2="300.20" y2="370.8" stroke="#555555" stroke-width="0.75"/>
<line x1="308.52" y1="368.1" x2="308.52" y2="370.8" stroke="#555555" stroke-width="0.75"/>
<line x1="316.84" y1="368.1" x2="316.84" y2="370.8" stroke="#555555" stroke-width="0.75"/>
<line x1="325.16" y1="368.1" x2="325.16" y2="370.8" stroke="#555555" stroke-width="0.75"/>
<line x1="333.48" y1="368.1" x2="333.48" y2="370.8" stroke="#555555" stroke-width="0.75"/>
<line x1="341.80" y1="368.1" x2="341.80" y2="370.8" stroke="#555555" stroke-width="0.75"/>
<line x1="350.12" y1="368.1" x2="350.12" y2="370.8" stroke="#555555" stroke-width="0.75"/>
<text x="291.9" y="256.40000000000003" fill="#222" text-anchor="end" stroke="#222" stroke-width="0.2">100</text>
<text x="291.9" y="371.20000000000005" fill="#222" text-anchor="end" stroke="#222" stroke-width="0.2">0</text>
<text x="300.2" y="380.6" fill="#222" text-anchor="middle" stroke="#222" stroke-width="0.2">1</text>
<text x="316.84" y="380.6" fill="#222" text-anchor="middle" stroke="#222" stroke-width="0.2">3</text>
<text x="333.48" y="380.6" fill="#222" text-anchor="middle" stroke="#222" stroke-width="0.2">5</text>
<text x="350.12" y="380.6" fill="#222" text-anchor="middle" stroke="#222" stroke-width="0.2">7</text>
<text x="325.2" y="393.0" fill="#222" text-anchor="middle" stroke="#222" stroke-width="0.2">Motifs per bout</text>
<text transform="translate(277.6,310.7) rotate(-90)" text-anchor="middle" fill="#222" stroke="#222" stroke-width="0.2">Cumulative probability (%)</text>
<text x="309.6" y="256.4" fill="#222" text-anchor="middle" stroke="#222" stroke-width="0.2">**</text>
<path d="M300.20,338.48 L308.52,303.24 L316.84,271.67 L325.16,257.89 L333.48,253.30 L341.80,253.30 L350.12,253.30 L350.12,253.30 L341.80,262.71 L333.48,265.70 L325.16,271.67 L316.84,285.44 L308.52,317.01 L300.20,352.26 Z" fill="#7a7a7a" fill-opacity="0.45"/>
<path d="M300.20,308.98 L308.52,267.65 L316.84,253.30 L325.16,253.30 L333.48,253.30 L341.80,253.30 L350.12,253.30 L350.12,253.30 L341.80,253.30 L333.48,253.30 L325.16,253.30 L316.84,266.62 L308.52,286.02 L300.20,327.35 Z" fill="#8a8aff" fill-opacity="0.45"/>
<path d="M300.20,345.37 L308.52,310.13 L316.84,278.56 L325.16,264.78 L333.48,258.81 L341.80,255.83 L350.12,253.30" fill="none" stroke="#111" stroke-width="1.3" stroke-linejoin="round"/>
<path d="M300.20,318.16 L308.52,276.83 L316.84,257.43 L325.16,253.30 L333.48,253.30 L341.80,253.30 L350.12,253.30" fill="none" stroke="#2323f0" stroke-width="1.3" stroke-linejoin="round"/>
<circle cx="367.80" cy="223.50" r="2.5" fill="#fff" stroke="#555" stroke-width="0.6"/>
<text x="374.2" y="226.6" fill="#222" stroke="#222" stroke-width="0.2">Pre-lesion</text>
<path d="M365.50,236.20 L367.80,232.20 L370.10,236.20 Z" fill="#fff" stroke="#2323f0" stroke-width="0.8" stroke-linejoin="miter"/>
<text x="374.2" y="237.2" fill="#222" stroke="#222" stroke-width="0.2">Post-lesion</text>
<path d="M391,253.4 L393.7,253.4 L393.7,264 M391.3,264 L396.6,264 M391.3,276.6 L396.6,276.6 M393.7,276.6 L393.7,367.5" fill="none" stroke="#9a9a9a" stroke-width="0.75"/>
<line x1="391" y1="294.9" x2="393.7" y2="294.9" stroke="#9a9a9a" stroke-width="0.75"/>
<line x1="391" y1="313.1" x2="393.7" y2="313.1" stroke="#9a9a9a" stroke-width="0.75"/>
<line x1="391" y1="331.3" x2="393.7" y2="331.3" stroke="#9a9a9a" stroke-width="0.75"/>
<line x1="391" y1="349.4" x2="393.7" y2="349.4" stroke="#9a9a9a" stroke-width="0.75"/>
<line x1="391" y1="367.5" x2="393.7" y2="367.5" stroke="#9a9a9a" stroke-width="0.75"/>
<text x="387.6" y="256.5" fill="#222" text-anchor="end" stroke="#222" stroke-width="0.2">100</text>
<text x="387.6" y="279.70000000000005" fill="#222" text-anchor="end" stroke="#222" stroke-width="0.2">50</text>
<text x="387.6" y="298.0" fill="#222" text-anchor="end" stroke="#222" stroke-width="0.2">40</text>
<text x="387.6" y="316.20000000000005" fill="#222" text-anchor="end" stroke="#222" stroke-width="0.2">30</text>
<text x="387.6" y="334.40000000000003" fill="#222" text-anchor="end" stroke="#222" stroke-width="0.2">20</text>
<text x="387.6" y="352.5" fill="#222" text-anchor="end" stroke="#222" stroke-width="0.2">10</text>
<text x="387.6" y="370.6" fill="#222" text-anchor="end" stroke="#222" stroke-width="0.2">0</text>
<line x1="409.7" y1="367.5" x2="426" y2="367.5" stroke="#8a8a8a" stroke-width="0.9" stroke-dasharray="0.9 3.5"/>
<text transform="translate(368.6,310.2) rotate(-90)" text-anchor="middle" fill="#222" stroke="#222" stroke-width="0.2">Motif start failure rate (%)</text>
<line x1="403.6" y1="355.2" x2="417.6" y2="286.5" stroke="#111" stroke-width="0.75"/>
<line x1="403.6" y1="356.4" x2="417.8" y2="323.6" stroke="#111" stroke-width="0.75"/>
<line x1="404.5" y1="363.8" x2="417.0" y2="359.3" stroke="#111" stroke-width="0.75"/>
<circle cx="403.10" cy="367.30" r="3.2" fill="#fff" stroke="#666" stroke-width="0.7"/>
<circle cx="403.10" cy="363.60" r="3.2" fill="#fff" stroke="#666" stroke-width="0.7"/>
<circle cx="403.10" cy="357.50" r="3.2" fill="#fff" stroke="#666" stroke-width="0.7"/>
<path d="M415.00,286.08 L418.20,280.52 L421.40,286.08 Z" fill="#fff" stroke="#2323f0" stroke-width="1.0" stroke-linejoin="miter"/>
<path d="M415.00,323.58 L418.20,318.02 L421.40,323.58 Z" fill="#fff" stroke="#2323f0" stroke-width="1.0" stroke-linejoin="miter"/>
<path d="M415.00,360.78 L418.20,355.22 L421.40,360.78 Z" fill="#fff" stroke="#2323f0" stroke-width="1.0" stroke-linejoin="miter"/>
<circle cx="458.70" cy="223.50" r="2.5" fill="#fff" stroke="#555" stroke-width="0.6"/>
<text x="465" y="226.6" fill="#222" stroke="#222" stroke-width="0.2">Pre-lesion</text>
<path d="M456.40,236.20 L458.70,232.20 L461.00,236.20 Z" fill="#fff" stroke="#9c1f9c" stroke-width="0.8" stroke-linejoin="miter"/>
<text x="465" y="237.2" fill="#222" stroke="#222" stroke-width="0.2">Post-lesion</text>
<path d="M466.8,253.7 L466.8,334.4 M466.8,347.2 L466.8,367.7 M466.8,347.2 L471.3,347.2" fill="none" stroke="#9a9a9a" stroke-width="0.75"/>
<line x1="463.9" y1="253.7" x2="466.8" y2="253.7" stroke="#9a9a9a" stroke-width="0.75"/>
<line x1="463.9" y1="294.1" x2="466.8" y2="294.1" stroke="#9a9a9a" stroke-width="0.75"/>
<line x1="463.9" y1="334.4" x2="466.8" y2="334.4" stroke="#9a9a9a" stroke-width="0.75"/>
<line x1="463.9" y1="356.5" x2="466.8" y2="356.5" stroke="#9a9a9a" stroke-width="0.75"/>
<line x1="463.9" y1="367.7" x2="466.8" y2="367.7" stroke="#9a9a9a" stroke-width="0.75"/>
<text x="461.8" y="256.8" fill="#222" text-anchor="end" stroke="#222" stroke-width="0.2">100</text>
<text x="461.8" y="297.20000000000005" fill="#222" text-anchor="end" stroke="#222" stroke-width="0.2">95</text>
<text x="461.8" y="337.5" fill="#222" text-anchor="end" stroke="#222" stroke-width="0.2">90</text>
<text x="461.8" y="359.6" fill="#222" text-anchor="end" stroke="#222" stroke-width="0.2">50</text>
<text x="461.8" y="370.8" fill="#222" text-anchor="end" stroke="#222" stroke-width="0.2">0</text>
<line x1="471.5" y1="367.7" x2="520" y2="367.7" stroke="#8a8a8a" stroke-width="0.9" stroke-dasharray="0.9 3.5"/>
<text transform="translate(443.6,310) rotate(-90)" text-anchor="middle" fill="#222" stroke="#222" stroke-width="0.2">Motif similarity (%)</text>
<rect x="476.4" y="259.4" width="16.4" height="13.7" fill="none" stroke="#9a9a9a" stroke-width="0.7"/>
<line x1="484.4" y1="273.1" x2="484.4" y2="289" stroke="#9a9a9a" stroke-width="0.7"/>
<rect x="501.5" y="262.9" width="17" height="63" fill="none" stroke="#9c1f9c" stroke-width="0.75"/>
<line x1="501.5" y1="277.2" x2="518.5" y2="277.2" stroke="#9c1f9c" stroke-width="0.75"/>
<line x1="501.5" y1="266.3" x2="518.5" y2="266.3" stroke="#9c1f9c" stroke-width="0.6"/>
<line x1="489.3" y1="256.8" x2="514.8" y2="259.4" stroke="#000" stroke-width="0.8"/>
<line x1="484.4" y1="259.4" x2="504.8" y2="264.4" stroke="#000" stroke-width="0.8"/>
<line x1="489" y1="266" x2="514.4" y2="268.5" stroke="#000" stroke-width="0.8"/>
<line x1="484" y1="267" x2="509.8" y2="287.2" stroke="#000" stroke-width="0.8"/>
<line x1="489" y1="266" x2="514.9" y2="326.4" stroke="#000" stroke-width="0.8"/>
<line x1="484.4" y1="292.4" x2="504.3" y2="329.4" stroke="#000" stroke-width="0.8"/>
<line x1="479" y1="263.5" x2="514.8" y2="262" stroke="#000" stroke-width="0.8"/>
<circle cx="484.40" cy="259.40" r="3.3" fill="#fff" stroke="#777" stroke-width="0.65"/>
<circle cx="489.30" cy="256.80" r="3.3" fill="#fff" stroke="#777" stroke-width="0.65"/>
<circle cx="479.00" cy="263.50" r="3.3" fill="#fff" stroke="#777" stroke-width="0.65"/>
<circle cx="484.00" cy="267.00" r="3.3" fill="#fff" stroke="#777" stroke-width="0.65"/>
<circle cx="489.00" cy="266.00" r="3.3" fill="#fff" stroke="#777" stroke-width="0.65"/>
<circle cx="484.40" cy="292.40" r="3.3" fill="#fff" stroke="#777" stroke-width="0.65"/>
<path d="M511.60,262.18 L514.80,256.62 L518.00,262.18 Z" fill="#fff" stroke="#9c1f9c" stroke-width="1.0" stroke-linejoin="miter"/>
<path d="M501.60,267.18 L504.80,261.62 L508.00,267.18 Z" fill="#fff" stroke="#9c1f9c" stroke-width="1.0" stroke-linejoin="miter"/>
<path d="M511.20,271.28 L514.40,265.72 L517.60,271.28 Z" fill="#fff" stroke="#9c1f9c" stroke-width="1.0" stroke-linejoin="miter"/>
<path d="M506.60,289.98 L509.80,284.42 L513.00,289.98 Z" fill="#fff" stroke="#9c1f9c" stroke-width="1.0" stroke-linejoin="miter"/>
<path d="M501.10,332.18 L504.30,326.62 L507.50,332.18 Z" fill="#fff" stroke="#9c1f9c" stroke-width="1.0" stroke-linejoin="miter"/>
<path d="M511.70,329.18 L514.90,323.62 L518.10,329.18 Z" fill="#fff" stroke="#9c1f9c" stroke-width="1.0" stroke-linejoin="miter"/>
<line x1="544.1" y1="223.6" x2="549.2" y2="223.6" stroke="#111" stroke-width="1.9"/>
<text x="553.5" y="226.6" fill="#222" stroke="#222" stroke-width="0.2">Pre-lesion</text>
<line x1="544.1" y1="233.7" x2="549.2" y2="233.7" stroke="#9c1f9c" stroke-width="1.9"/>
<text x="553.5" y="237.2" fill="#222" stroke="#222" stroke-width="0.2">Post-lesion</text>
<line x1="556.7" y1="253.2" x2="556.7" y2="368.1" stroke="#555555" stroke-width="0.75"/>
<line x1="553.9000000000001" y1="253.2" x2="556.7" y2="253.2" stroke="#555555" stroke-width="0.75"/>
<line x1="553.9000000000001" y1="310.6" x2="556.7" y2="310.6" stroke="#555555" stroke-width="0.75"/>
<line x1="554.1" y1="368.1" x2="614.9" y2="368.1" stroke="#555555" stroke-width="0.75"/>
<line x1="560.20" y1="368.1" x2="560.20" y2="370.8" stroke="#555555" stroke-width="0.75"/>
<line x1="567.40" y1="368.1" x2="567.40" y2="370.8" stroke="#555555" stroke-width="0.75"/>
<line x1="574.60" y1="368.1" x2="574.60" y2="370.8" stroke="#555555" stroke-width="0.75"/>
<line x1="581.80" y1="368.1" x2="581.80" y2="370.8" stroke="#555555" stroke-width="0.75"/>
<line x1="589.00" y1="368.1" x2="589.00" y2="370.8" stroke="#555555" stroke-width="0.75"/>
<line x1="596.20" y1="368.1" x2="596.20" y2="370.8" stroke="#555555" stroke-width="0.75"/>
<line x1="603.40" y1="368.1" x2="603.40" y2="370.8" stroke="#555555" stroke-width="0.75"/>
<line x1="610.60" y1="368.1" x2="610.60" y2="370.8" stroke="#555555" stroke-width="0.75"/>
<text x="552.0" y="256.3" fill="#222" text-anchor="end" stroke="#222" stroke-width="0.2">100</text>
<text x="552.0" y="313.70000000000005" fill="#222" text-anchor="end" stroke="#222" stroke-width="0.2">50</text>
<text x="552.0" y="371.20000000000005" fill="#222" text-anchor="end" stroke="#222" stroke-width="0.2">0</text>
<text x="560.2" y="380.6" fill="#222" text-anchor="middle" stroke="#222" stroke-width="0.2">1</text>
<text x="574.6" y="380.6" fill="#222" text-anchor="middle" stroke="#222" stroke-width="0.2">3</text>
<text x="589.0" y="380.6" fill="#222" text-anchor="middle" stroke="#222" stroke-width="0.2">5</text>
<text x="603.4000000000001" y="380.6" fill="#222" text-anchor="middle" stroke="#222" stroke-width="0.2">7</text>
<text x="585.9" y="393.0" fill="#222" text-anchor="middle" stroke="#222" stroke-width="0.2">Motifs per bout</text>
<text transform="translate(533.4,310.6) rotate(-90)" text-anchor="middle" fill="#222" stroke="#222" stroke-width="0.2">Cumulative probability (%)</text>
<text x="573.5" y="256.4" fill="#222" text-anchor="middle" stroke="#222" stroke-width="0.2">***</text>
<path d="M560.20,334.09 L567.40,291.12 L574.60,270.78 L581.80,260.09 L589.00,253.20 L596.20,253.20 L603.40,253.20 L610.60,253.20 L610.60,253.20 L603.40,253.20 L596.20,253.20 L589.00,265.84 L581.80,272.73 L574.60,283.42 L567.40,303.76 L560.20,346.73 Z" fill="#7a7a7a" fill-opacity="0.5"/>
<path d="M560.20,260.67 L567.40,253.20 L567.40,255.50 L560.20,288.36 Z" fill="#c060e0" fill-opacity="0.55"/>
<path d="M560.20,338.69 L567.40,295.71 L574.60,275.38 L581.80,264.69 L589.00,257.80 L596.20,253.77 L603.40,253.20 L610.60,253.20" fill="none" stroke="#111" stroke-width="1.3" stroke-linejoin="round"/>
<path d="M560.20,275.38 L567.40,254.35 L574.60,253.77 L581.80,253.54 L589.00,253.43 L596.20,253.31 L603.40,253.20 L610.60,253.20" fill="none" stroke="#9c1f9c" stroke-width="1.3" stroke-linejoin="round"/>
<circle cx="626.00" cy="223.50" r="2.5" fill="#fff" stroke="#555" stroke-width="0.6"/>
<text x="632.9" y="226.6" fill="#222" stroke="#222" stroke-width="0.2">Pre-lesion</text>
<path d="M623.70,236.20 L626.00,232.20 L628.30,236.20 Z" fill="#fff" stroke="#9c1f9c" stroke-width="0.8" stroke-linejoin="miter"/>
<text x="632.9" y="237.2" fill="#222" stroke="#222" stroke-width="0.2">Post-lesion</text>
<line x1="652.5" y1="253.1" x2="652.5" y2="367.3" stroke="#9a9a9a" stroke-width="0.75"/>
<line x1="649.7" y1="253.1" x2="652.5" y2="253.1" stroke="#9a9a9a" stroke-width="0.75"/>
<line x1="649.7" y1="275.94" x2="652.5" y2="275.94" stroke="#9a9a9a" stroke-width="0.75"/>
<line x1="649.7" y1="298.78" x2="652.5" y2="298.78" stroke="#9a9a9a" stroke-width="0.75"/>
<line x1="649.7" y1="321.62" x2="652.5" y2="321.62" stroke="#9a9a9a" stroke-width="0.75"/>
<line x1="649.7" y1="344.46" x2="652.5" y2="344.46" stroke="#9a9a9a" stroke-width="0.75"/>
<line x1="649.7" y1="367.3" x2="652.5" y2="367.3" stroke="#9a9a9a" stroke-width="0.75"/>
<text x="647.0" y="256.2" fill="#222" text-anchor="end" stroke="#222" stroke-width="0.2">100</text>
<text x="647.0" y="279.04" fill="#222" text-anchor="end" stroke="#222" stroke-width="0.2">80</text>
<text x="647.0" y="301.88" fill="#222" text-anchor="end" stroke="#222" stroke-width="0.2">60</text>
<text x="647.0" y="324.72" fill="#222" text-anchor="end" stroke="#222" stroke-width="0.2">40</text>
<text x="647.0" y="347.56" fill="#222" text-anchor="end" stroke="#222" stroke-width="0.2">20</text>
<text x="647.0" y="370.40000000000003" fill="#222" text-anchor="end" stroke="#222" stroke-width="0.2">0</text>
<line x1="669" y1="367.3" x2="686" y2="367.3" stroke="#8a8a8a" stroke-width="0.9" stroke-dasharray="0.9 3.5"/>
<text transform="translate(628.7,310) rotate(-90)" text-anchor="middle" fill="#222" stroke="#222" stroke-width="0.2">Motif start failure rate (%)</text>
<text x="666.6" y="256.3" fill="#222" text-anchor="middle" stroke="#222" stroke-width="0.2">*</text>
<line x1="659.7" y1="364.6" x2="673.1" y2="264.7" stroke="#000" stroke-width="0.8"/>
<line x1="662.3" y1="360.6" x2="675.4" y2="268.5" stroke="#000" stroke-width="0.8"/>
<line x1="666.7" y1="364.2" x2="677.3" y2="272.3" stroke="#000" stroke-width="0.8"/>
<line x1="665.1" y1="356.4" x2="676.0" y2="297.6" stroke="#000" stroke-width="0.8"/>
<line x1="663.0" y1="365" x2="680.4" y2="295.1" stroke="#000" stroke-width="0.8"/>
<line x1="662.3" y1="360.6" x2="674.8" y2="335.2" stroke="#000" stroke-width="0.8"/>
<line x1="659.7" y1="364.6" x2="675.4" y2="268.5" stroke="#000" stroke-width="0.8"/>
<line x1="666.7" y1="364.2" x2="673.1" y2="264.7" stroke="#000" stroke-width="0.8"/>
<line x1="665.1" y1="356.4" x2="677.3" y2="272.3" stroke="#000" stroke-width="0.8"/>
<line x1="663.0" y1="365" x2="676.0" y2="297.6" stroke="#000" stroke-width="0.8"/>
<circle cx="659.20" cy="366.60" r="2.9" fill="#fff" stroke="#777" stroke-width="0.65"/>
<circle cx="661.80" cy="362.60" r="2.9" fill="#fff" stroke="#777" stroke-width="0.65"/>
<circle cx="666.20" cy="366.20" r="2.9" fill="#fff" stroke="#777" stroke-width="0.65"/>
<circle cx="664.60" cy="358.40" r="2.9" fill="#fff" stroke="#777" stroke-width="0.65"/>
<circle cx="662.50" cy="367.00" r="2.9" fill="#fff" stroke="#777" stroke-width="0.65"/>
<path d="M669.90,265.48 L673.10,259.92 L676.30,265.48 Z" fill="#fff" stroke="#9c1f9c" stroke-width="1.0" stroke-linejoin="miter"/>
<path d="M672.20,269.28 L675.40,263.72 L678.60,269.28 Z" fill="#fff" stroke="#9c1f9c" stroke-width="1.0" stroke-linejoin="miter"/>
<path d="M674.10,273.08 L677.30,267.52 L680.50,273.08 Z" fill="#fff" stroke="#9c1f9c" stroke-width="1.0" stroke-linejoin="miter"/>
<path d="M672.80,298.38 L676.00,292.82 L679.20,298.38 Z" fill="#fff" stroke="#9c1f9c" stroke-width="1.0" stroke-linejoin="miter"/>
<path d="M677.20,295.88 L680.40,290.32 L683.60,295.88 Z" fill="#fff" stroke="#9c1f9c" stroke-width="1.0" stroke-linejoin="miter"/>
<path d="M671.60,335.98 L674.80,330.42 L678.00,335.98 Z" fill="#fff" stroke="#9c1f9c" stroke-width="1.0" stroke-linejoin="miter"/>
<g transform="translate(13.8,157.5) rotate(54)"><rect x="-7" y="-1.9" width="9.8" height="3.8" rx="0.5" fill="#fff" stroke="#111" stroke-width="0.8"/><rect x="-2.8" y="-1.4" width="5.2" height="2.8" fill="#22dd22"/><rect x="-9.8" y="-2.8" width="1.7" height="5.6" fill="#222"/><rect x="-8.6" y="-0.7" width="2" height="1.4" fill="#222"/><path d="M2.5,-1.2 L4.6,-0.5 L4.6,0.5 L2.5,1.2 Z" fill="#22dd22" stroke="#111" stroke-width="0.35"/><line x1="4.6" y1="0" x2="8" y2="0" stroke="#22dd22" stroke-width="0.8"/></g>
<path d="M19.5,166.5 C23,168 25,172 25.2,180.8" fill="none" stroke="#33ee33" stroke-width="0.8"/><path d="M19.5,166.5 C23,166.5 27,168 28.4,171" fill="none" stroke="#33ee33" stroke-width="0.8"/>
<ellipse cx="19" cy="166.3" rx="2.6" ry="1.3" fill="#22dd22" stroke="#0a3a0a" stroke-width="0.5"/><ellipse cx="28.6" cy="171.6" rx="1.1" ry="2.1" fill="#22dd22" stroke="#0a3a0a" stroke-width="0.5"/><ellipse cx="25.1" cy="181.6" rx="1.9" ry="1.2" fill="#22dd22" stroke="#0a3a0a" stroke-width="0.5"/>
<text x="433.9" y="45.2" fill="#222" stroke="#222" stroke-width="0.2">Viral injection</text>
<text x="433.9" y="53.6" fill="#222" stroke="#222" stroke-width="0.2">HVC <tspan fill="#8a8a8a">Cre</tspan></text>
<text x="433.9" y="106.0" font-size="7.6" fill="#222" stroke="#222" stroke-width="0.2">Uva DIO–<tspan fill="#f01e1e">TeNT</tspan></text>
<g transform="translate(429.5,-7.5) scale(1.0)"><path d="M15.3,72 C17,68.6 27,68.3 35,70.6 C44,73.2 50.5,79 49.6,85.6 C49,89.6 47,91.6 43.5,92 C39,92.4 35,92.2 32.5,93 C30.5,94.6 29.5,97.4 26.5,99.4 C22.5,101.8 15,102.2 10.5,100.2 C7.4,98.7 7.6,95.5 9.6,93.6 C9,90 8.5,84 10.5,79 C11.8,75.8 13.6,73.6 15.3,72 Z" fill="#f1f1f1" stroke="#5a5a5a" stroke-width="0.5"/><path d="M24,83.5 C31,79.5 40,80.5 46,85.5" fill="none" stroke="#d2d2d2" stroke-width="0.45"/><path d="M23,86.8 C30,83.5 39,84.5 43.5,90.5" fill="none" stroke="#d8d8d8" stroke-width="0.45"/><path d="M24,88 C25,92 24,96 21,99" fill="none" stroke="#d8d8d8" stroke-width="0.4"/><path d="M33,92.6 C33.5,91 33,89.5 32,88.5" fill="none" stroke="#9a9a9a" stroke-width="0.4"/><path d="M9.5,80.5 C7,82 6.5,85 8.5,86 C6,87.5 6.2,90.8 8.8,91 C7.4,93 9,95.2 11.4,94.4 M11.5,79.5 C14.5,78.6 16.5,80.6 15,82.6 C17.2,83.6 16.8,86.8 14.6,86.9 C16.8,88.4 15.8,91.6 13,91.2 M9.6,83.6 C11.2,82.2 13.4,83.2 12.4,85.2 C11.4,86.8 13,88.4 14,87.8 M9.4,88.4 C10.8,87.4 12.4,89 11.4,90.6 M12.5,92 C13.5,93.5 15.5,93.5 16,92 M7.8,84 C9,84.8 10,84.5 10.6,83.6 M15.5,77.5 C17,79 18,82 17.5,86 M10.5,91.5 C11.5,92.8 13,92.6 13.6,91.8" fill="none" stroke="#7a7a7a" stroke-width="0.6"/><path d="M15.8,71.6 C15.2,76 15.6,81 16.4,85.5" fill="none" stroke="#8a8a8a" stroke-width="0.4"/></g>
<g transform="translate(441,60.5) rotate(22)"><rect x="-7" y="-1.5" width="10" height="3" rx="0.4" fill="#3a3a3a" stroke="#111" stroke-width="0.4"/><rect x="-5.5" y="-0.7" width="6" height="1.4" fill="#bbb"/><rect x="-9.4" y="-2.4" width="1.5" height="4.8" fill="#222"/><rect x="-8.4" y="-0.5" width="1.8" height="1" fill="#222"/><line x1="3" y1="0" x2="8" y2="0" stroke="#222" stroke-width="0.6"/></g>
<ellipse cx="453.6" cy="63.8" rx="3" ry="1.3" fill="#777" stroke="#333" stroke-width="0.4"/>
<g transform="translate(446,73) rotate(32)"><rect x="-7" y="-1.5" width="10" height="3" rx="0.4" fill="#3a3a3a" stroke="#111" stroke-width="0.4"/><rect x="-1" y="-1.1" width="4" height="2.2" fill="#ee1e1e"/><rect x="-9.4" y="-2.4" width="1.5" height="4.8" fill="#222"/><rect x="-8.4" y="-0.5" width="1.8" height="1" fill="#222"/><line x1="3" y1="0" x2="9" y2="0" stroke="#ee1e1e" stroke-width="1.1"/></g>
<ellipse cx="454.6" cy="78.6" rx="1.6" ry="1.1" fill="#111"/>
<line x1="485.9" y1="75.4" x2="499.8" y2="75.4" stroke="#333" stroke-width="0.8"/>
<path d="M497.6,73.6 L500.6,75.4 L497.6,77.2 Z" fill="#333"/>
<g transform="translate(503.5,57.3) scale(1.0)"><path d="M6.5,26.4 L6.5,30.6 M14,26.4 L14,30.6" stroke="#444" stroke-width="0.6" fill="none"/><path d="M4.2,31.8 L6.5,30.4 L8.9,31.8 M11.7,31.8 L14,30.4 L16.4,31.8" stroke="#000" stroke-width="0.9" fill="none"/><path d="M0.2,26.4 C1.2,21 2.8,14 3.4,8 C3.8,2.5 6.5,0 10.2,0 C14,0 16.9,2.5 17.5,6.5 C18.3,12 18.8,20 19.3,26.4 Z" fill="#757575" stroke="#0a0a0a" stroke-width="0.75"/><path d="M12.2,14.6 C9.8,16.6 9.4,22.4 11.8,24.8 C14.8,25.8 18.2,24.6 18.8,22.4 C18.7,18.6 17.8,15.6 16.2,14 Z" fill="#fff"/><path d="M12.2,14.6 C9.4,16.6 9,22.6 11.8,24.8 C10.9,22.4 10.9,17.8 13.2,15.2 Z" fill="#7a3210"/><path d="M13.6,10.2 L17.8,10.2 L18.1,14.4 L16,14.6 C14.9,13.4 14,11.9 13.6,10.2 Z" fill="#0a0a0a"/><path d="M15,10.9 L15.5,14 M16.6,10.8 L17,14.1" stroke="#fff" stroke-width="0.45"/><ellipse cx="11.6" cy="8.8" rx="1.9" ry="2.2" fill="#f2643c"/><circle cx="13.7" cy="6.2" r="0.6" fill="#000"/><path d="M15.2,7.4 L20.8,4.4 L18.5,7.9 L21,11 L15.3,9.3 Z" fill="#ee1c1c"/></g>
<g transform="translate(526,48.2) scale(1.0)"><ellipse cx="1.6" cy="7.6" rx="1.7" ry="1.3" fill="#000" transform="rotate(-20 1.6 7.6)"/><ellipse cx="6.4" cy="6.4" rx="1.7" ry="1.3" fill="#000" transform="rotate(-20 6.4 6.4)"/><path d="M3.1,7.3 L3.1,1.2 L7.9,0 L7.9,6.1" fill="none" stroke="#000" stroke-width="0.7"/><path d="M3.1,1.2 L7.9,0 L7.9,1.2 L3.1,2.4 Z" fill="#000"/></g>
<g clip-path="url(#tclip2)">
<rect x="432.20" y="111.40" width="111.60" height="85.60" fill="#270707"/>
<ellipse cx="496" cy="150" rx="30" ry="20" fill="#3a0a0a" opacity="0.5" filter="url(#blur4)"/>
<rect x="432.20" y="111.40" width="111.60" height="85.60" fill="#fff" filter="url(#rgrain)" opacity="0.22"/>
<circle cx="488" cy="134" r="2.03" fill="url(#rdot)"/>
<circle cx="492.8" cy="134" r="2.03" fill="url(#rdot)"/>
<circle cx="495.4" cy="134.5" r="1.76" fill="url(#rdot)"/>
<circle cx="487.5" cy="141.2" r="1.76" fill="url(#rdot)"/>
<circle cx="493.6" cy="144.6" r="2.16" fill="url(#rdot)"/>
<circle cx="498" cy="139.9" r="1.62" fill="url(#rdot)"/>
<circle cx="507.4" cy="139.9" r="1.62" fill="url(#rdot)"/>
<circle cx="512.7" cy="134" r="1.76" fill="url(#rdot)"/>
<circle cx="520.7" cy="137.2" r="1.49" fill="url(#rdot)"/>
<circle cx="480.8" cy="149.2" r="1.76" fill="url(#rdot)"/>
<circle cx="486.7" cy="150.5" r="2.16" fill="url(#rdot)"/>
<circle cx="491.4" cy="151" r="1.76" fill="url(#rdot)"/>
<circle cx="495.4" cy="152.6" r="1.62" fill="url(#rdot)"/>
<circle cx="480.8" cy="163.8" r="1.62" fill="url(#rdot)"/>
<circle cx="481.3" cy="168.6" r="2.70" fill="url(#rdot)"/>
<circle cx="487.5" cy="170.4" r="1.49" fill="url(#rdot)"/>
<circle cx="467.5" cy="171.8" r="1.62" fill="url(#rdot)"/>
<circle cx="510" cy="166.4" r="1.35" fill="url(#rdot)"/>
<circle cx="496.8" cy="165.1" r="1.35" fill="url(#rdot)"/>
<circle cx="518" cy="166.4" r="1.35" fill="url(#rdot)"/>
<circle cx="528.6" cy="155.8" r="1.62" fill="url(#rdot)"/>
<circle cx="532.6" cy="154.5" r="1.49" fill="url(#rdot)"/>
<circle cx="502" cy="147" r="1.22" fill="url(#rdot)"/>
<circle cx="515" cy="150" r="1.22" fill="url(#rdot)"/>
<circle cx="500" cy="158" r="1.22" fill="url(#rdot)"/>
<circle cx="504.7" cy="120" r="1.3" fill="url(#rdot)" opacity="0.8"/>
<circle cx="443.6" cy="163" r="1.4" fill="url(#rdot)" opacity="0.8"/>
<circle cx="452" cy="182" r="0.9" fill="url(#rdot)" opacity="0.8"/>
<circle cx="532" cy="178" r="1.0" fill="url(#rdot)" opacity="0.8"/>
<circle cx="470" cy="188" r="0.9" fill="url(#rdot)" opacity="0.8"/>
</g>
<ellipse cx="499.4" cy="153.2" rx="39.2" ry="23.6" fill="none" stroke="#f4f4f4" stroke-width="1.15" stroke-dasharray="2.7 2.0" transform="rotate(-23 499.4 153.2)"/>
<text x="435.5" y="121.3" fill="#f01c1c">TeNT</text>
<text x="502" y="188.5" fill="#f0f0f0">Uva</text>
<rect x="436.20" y="192.20" width="45.40" height="1.70" fill="#fff"/>
</svg>
</body></html>
